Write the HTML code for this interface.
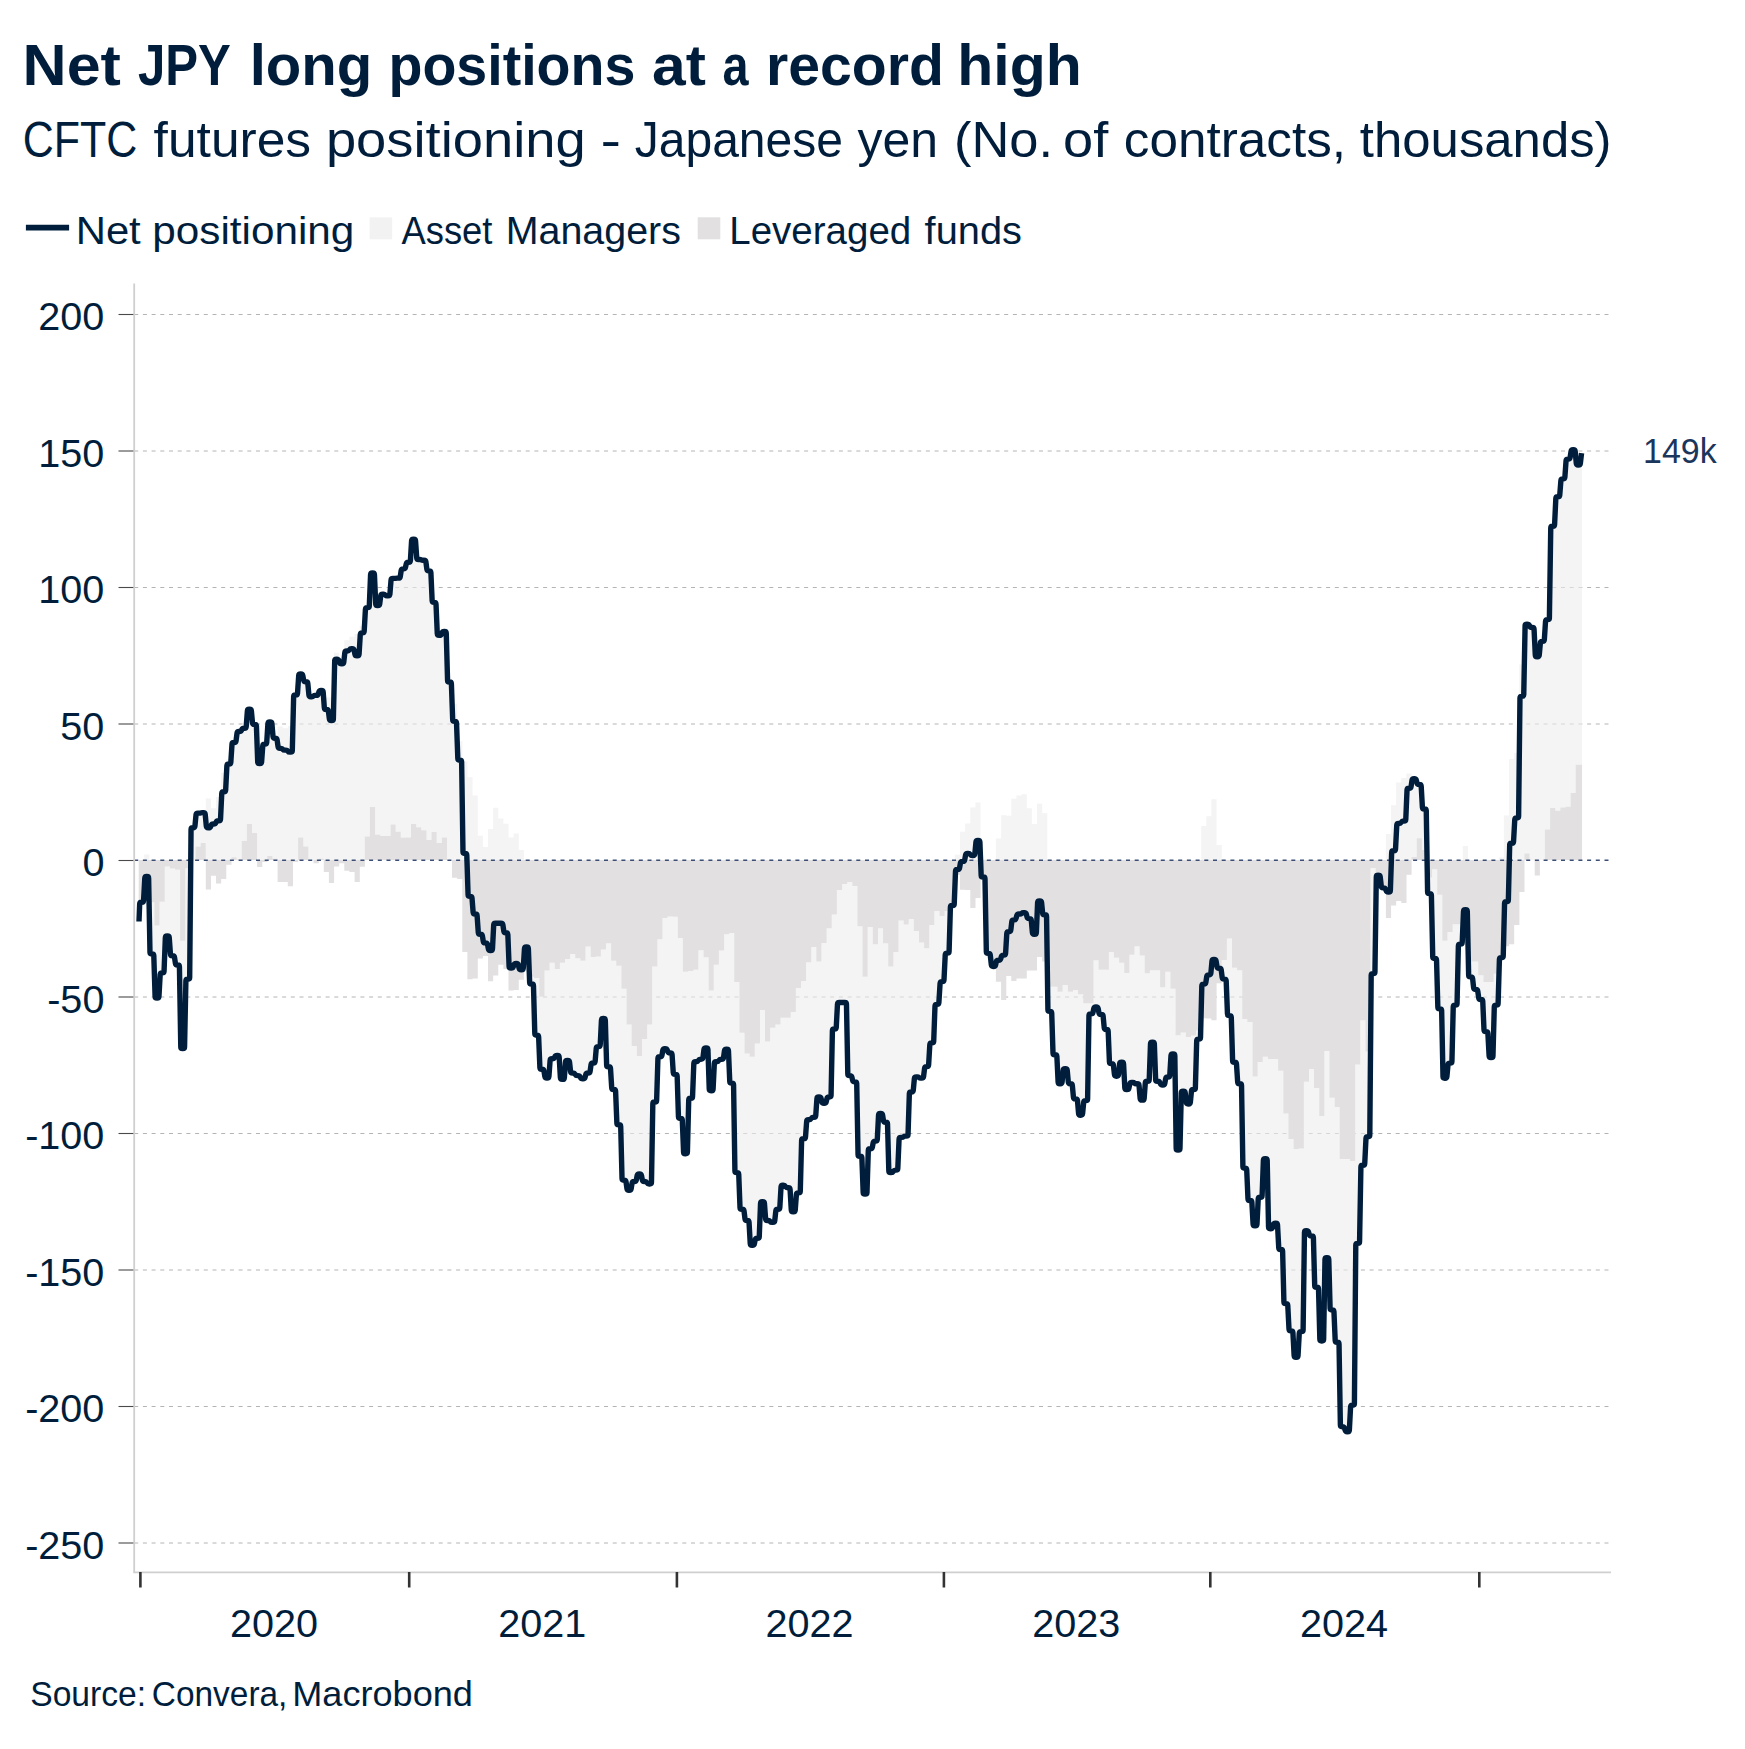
<!DOCTYPE html>
<html><head><meta charset="utf-8"><title>Net JPY long positions at a record high</title>
<style>
html,body{margin:0;padding:0;background:#fff;}
body{width:1745px;height:1749px;overflow:hidden;font-family:"Liberation Sans",sans-serif;}
svg{display:block}
text{font-family:"Liberation Sans",sans-serif;fill:#001e3c;}
.ax{font-size:39.6px;}
</style></head><body>
<svg width="1745" height="1749" viewBox="0 0 1745 1749">
<rect width="1745" height="1749" fill="#fff"/>
<text y="84.8" font-size="57" font-weight="700" xml:space="preserve"><tspan x="22.61" textLength="98.32" lengthAdjust="spacingAndGlyphs">Net</tspan> <tspan x="137.99" textLength="92.03" lengthAdjust="spacingAndGlyphs">JPY</tspan> <tspan x="249.65" textLength="122.62" lengthAdjust="spacingAndGlyphs">long</tspan> <tspan x="388.50" textLength="246.85" lengthAdjust="spacingAndGlyphs">positions</tspan> <tspan x="651.99" textLength="53.86" lengthAdjust="spacingAndGlyphs">at</tspan> <tspan x="722.39" textLength="26.04" lengthAdjust="spacingAndGlyphs">a</tspan> <tspan x="766.04" textLength="177.91" lengthAdjust="spacingAndGlyphs">record</tspan> <tspan x="957.28" textLength="124.45" lengthAdjust="spacingAndGlyphs">high</tspan></text>
<text y="157.3" font-size="50" font-weight="400" xml:space="preserve"><tspan x="22.84" textLength="114.54" lengthAdjust="spacingAndGlyphs">CFTC</tspan> <tspan x="153.58" textLength="157.56" lengthAdjust="spacingAndGlyphs">futures</tspan> <tspan x="325.92" textLength="259.77" lengthAdjust="spacingAndGlyphs">positioning</tspan> <tspan x="600.49" textLength="20.55" lengthAdjust="spacingAndGlyphs">-</tspan> <tspan x="634.78" textLength="208.15" lengthAdjust="spacingAndGlyphs">Japanese</tspan> <tspan x="857.47" textLength="80.55" lengthAdjust="spacingAndGlyphs">yen</tspan> <tspan x="953.94" textLength="99.07" lengthAdjust="spacingAndGlyphs">(No.</tspan> <tspan x="1063.11" textLength="45.21" lengthAdjust="spacingAndGlyphs">of</tspan> <tspan x="1123.84" textLength="222.28" lengthAdjust="spacingAndGlyphs">contracts,</tspan> <tspan x="1359.88" textLength="251.68" lengthAdjust="spacingAndGlyphs">thousands)</tspan></text>
<line x1="25.9" x2="69.1" y1="227.6" y2="227.6" stroke="#001e3c" stroke-width="5.6"/>
<rect x="369.6" y="217.3" width="22.6" height="22" fill="#f2f2f2"/>
<rect x="697.7" y="217.3" width="22.6" height="22" fill="#e2e0e1"/>
<text y="244.2" font-size="38" font-weight="400" xml:space="preserve"><tspan x="75.72" textLength="65.01" lengthAdjust="spacingAndGlyphs">Net</tspan> <tspan x="152.34" textLength="202.04" lengthAdjust="spacingAndGlyphs">positioning</tspan> <tspan x="401.49" textLength="90.92" lengthAdjust="spacingAndGlyphs">Asset</tspan> <tspan x="505.73" textLength="175.21" lengthAdjust="spacingAndGlyphs">Managers</tspan> <tspan x="729.31" textLength="181.96" lengthAdjust="spacingAndGlyphs">Leveraged</tspan> <tspan x="924.58" textLength="97.35" lengthAdjust="spacingAndGlyphs">funds</tspan></text>
<defs><clipPath id="lc"><path d="M138.7,901.0h5.53v1.2h-5.53zM144.2,854.4h5.18v5.6h-5.18zM149.3,902.3h5.18v51.7h-5.18zM154.4,925.6h5.18v72.5h-5.18zM159.6,901.7h5.18v71.2h-5.18zM164.7,866.4h5.18v69.7h-5.18zM169.8,868.6h5.18v87.1h-5.18zM175.0,869.8h5.18v95.3h-5.18zM180.1,940.7h5.18v107.8h-5.18zM185.2,868.3h5.18v110.9h-5.18zM190.4,827.8h5.18v32.2h-5.18zM195.5,813.2h5.18v33.7h-5.18zM200.6,812.7h5.18v30.4h-5.18zM205.8,798.4h5.18v61.6h-5.18zM210.9,808.2h5.18v51.8h-5.18zM216.0,797.1h5.18v62.9h-5.18zM221.1,772.8h5.18v87.2h-5.18zM226.3,759.3h5.18v100.7h-5.18zM231.4,742.6h5.18v114.6h-5.18zM236.5,731.5h5.18v128.0h-5.18zM241.7,728.2h5.18v113.0h-5.18zM246.8,709.3h5.18v114.8h-5.18zM251.9,724.4h5.18v108.5h-5.18zM257.1,756.5h5.18v103.5h-5.18zM262.2,742.1h5.18v117.9h-5.18zM267.3,721.9h5.18v134.1h-5.18zM272.5,738.3h5.18v120.5h-5.18zM277.6,726.5h5.18v133.5h-5.18zM282.7,728.3h5.18v131.7h-5.18zM287.8,726.0h5.18v134.0h-5.18zM293.0,693.0h5.18v167.0h-5.18zM298.1,674.0h5.18v163.4h-5.18zM303.2,681.8h5.18v164.6h-5.18zM308.4,696.7h5.18v163.3h-5.18zM313.5,692.2h5.18v167.8h-5.18zM318.6,690.4h5.18v168.4h-5.18zM323.8,697.5h5.18v162.5h-5.18zM328.9,697.5h5.18v162.5h-5.18zM334.0,652.7h5.18v207.3h-5.18zM339.2,660.7h5.18v199.3h-5.18zM344.3,640.3h5.18v219.7h-5.18zM349.4,636.7h5.18v223.3h-5.18zM354.6,634.0h5.18v226.0h-5.18zM359.7,626.1h5.18v233.9h-5.18zM364.8,607.7h5.18v228.7h-5.18zM369.9,572.9h5.18v234.2h-5.18zM375.1,605.7h5.18v229.2h-5.18zM380.2,594.3h5.18v241.8h-5.18zM385.3,595.8h5.18v240.3h-5.18zM390.5,578.4h5.18v246.0h-5.18zM395.6,578.2h5.18v253.5h-5.18zM400.7,568.8h5.18v268.5h-5.18zM405.9,562.3h5.18v275.1h-5.18zM411.0,539.1h5.18v285.0h-5.18zM416.1,559.5h5.18v267.8h-5.18zM421.3,560.3h5.18v269.9h-5.18zM426.4,570.9h5.18v269.0h-5.18zM431.5,602.4h5.18v229.7h-5.18zM436.6,635.4h5.18v207.6h-5.18zM441.8,631.4h5.18v206.0h-5.18zM446.9,682.1h5.18v177.9h-5.18zM452.0,703.7h5.18v156.3h-5.18zM457.2,741.2h5.18v118.8h-5.18zM462.3,761.4h5.18v98.6h-5.18zM467.4,777.2h5.18v82.8h-5.18zM472.6,795.5h5.18v64.5h-5.18zM477.7,835.8h5.18v24.2h-5.18zM482.8,847.0h5.18v13.0h-5.18zM488.0,829.1h5.18v30.9h-5.18zM493.1,807.8h5.18v52.2h-5.18zM498.2,818.5h5.18v41.5h-5.18zM503.4,823.7h5.18v36.3h-5.18zM508.5,837.5h5.18v22.5h-5.18zM513.6,833.6h5.18v26.4h-5.18zM518.7,850.0h5.18v10.0h-5.18zM523.9,946.4h5.18v0.6h-5.18zM529.0,976.7h5.18v7.4h-5.18zM534.1,977.9h5.18v57.3h-5.18zM539.3,996.8h5.18v72.4h-5.18zM544.4,970.4h5.18v107.7h-5.18zM549.5,962.8h5.18v95.9h-5.18zM554.7,969.1h5.18v86.3h-5.18zM559.8,962.8h5.18v116.5h-5.18zM564.9,959.1h5.18v101.4h-5.18zM570.1,954.0h5.18v119.1h-5.18zM575.2,958.2h5.18v117.4h-5.18zM580.3,960.7h5.18v118.2h-5.18zM585.4,946.4h5.18v126.6h-5.18zM590.6,956.9h5.18v106.1h-5.18zM595.7,956.5h5.18v90.1h-5.18zM600.8,949.6h5.18v68.8h-5.18zM606.0,943.3h5.18v123.5h-5.18zM611.1,960.7h5.18v128.8h-5.18zM616.2,965.7h5.18v159.0h-5.18zM621.4,988.7h5.18v191.5h-5.18zM626.5,1024.6h5.18v165.7h-5.18zM631.6,1046.0h5.18v135.4h-5.18zM636.8,1056.1h5.18v117.8h-5.18zM641.9,1039.1h5.18v142.4h-5.18zM647.0,1024.6h5.18v159.4h-5.18zM652.2,966.6h5.18v135.4h-5.18zM657.3,939.3h5.18v117.4h-5.18zM662.4,918.1h5.18v130.5h-5.18zM667.5,916.6h5.18v136.3h-5.18zM672.7,916.8h5.18v157.5h-5.18zM677.8,938.0h5.18v180.5h-5.18zM682.9,971.7h5.18v182.1h-5.18zM688.1,971.0h5.18v127.2h-5.18zM693.2,969.8h5.18v91.9h-5.18zM698.3,950.2h5.18v109.0h-5.18zM703.5,957.2h5.18v90.7h-5.18zM708.6,990.6h5.18v100.1h-5.18zM713.7,964.7h5.18v97.0h-5.18zM718.9,950.6h5.18v108.6h-5.18zM724.0,934.2h5.18v114.9h-5.18zM729.1,933.0h5.18v150.2h-5.18zM734.2,982.1h5.18v190.5h-5.18zM739.4,1032.8h5.18v176.4h-5.18zM744.5,1053.6h5.18v167.0h-5.18zM749.6,1056.8h5.18v188.5h-5.18zM754.8,1043.5h5.18v194.7h-5.18zM759.9,1010.1h5.18v191.5h-5.18zM765.0,1041.6h5.18v178.9h-5.18zM770.2,1027.8h5.18v194.6h-5.18zM775.3,1024.6h5.18v184.6h-5.18zM780.4,1017.7h5.18v167.6h-5.18zM785.6,1017.7h5.18v170.1h-5.18zM790.7,1012.0h5.18v199.7h-5.18zM795.8,988.1h5.18v204.8h-5.18zM800.9,981.1h5.18v157.5h-5.18zM806.1,962.2h5.18v157.5h-5.18zM811.2,947.1h5.18v170.1h-5.18zM816.3,961.6h5.18v135.4h-5.18zM821.5,943.0h5.18v160.3h-5.18zM826.6,928.2h5.18v168.9h-5.18zM831.7,914.6h5.18v114.4h-5.18zM836.9,890.1h5.18v112.4h-5.18zM842.0,884.0h5.18v118.4h-5.18zM847.1,882.1h5.18v193.4h-5.18zM852.3,885.9h5.18v196.0h-5.18zM857.4,926.3h5.18v230.0h-5.18zM862.5,976.7h5.18v217.4h-5.18zM867.7,926.9h5.18v221.8h-5.18zM872.8,944.3h5.18v196.8h-5.18zM877.9,928.2h5.18v185.2h-5.18zM883.0,943.3h5.18v178.9h-5.18zM888.2,966.6h5.18v206.0h-5.18zM893.3,952.1h5.18v218.0h-5.18zM898.4,920.6h5.18v216.8h-5.18zM903.6,924.6h5.18v211.5h-5.18zM908.7,919.1h5.18v172.9h-5.18zM913.8,930.9h5.18v145.9h-5.18zM919.0,942.6h5.18v135.5h-5.18zM924.1,948.3h5.18v118.3h-5.18zM929.2,925.0h5.18v117.9h-5.18zM934.4,911.1h5.18v93.2h-5.18zM939.5,915.9h5.18v65.7h-5.18zM944.6,911.1h5.18v42.0h-5.18zM949.7,905.4h5.18v0.0h-5.18zM954.9,854.7h5.18v5.3h-5.18zM960.0,831.7h5.18v28.3h-5.18zM965.1,823.6h5.18v36.4h-5.18zM970.3,807.6h5.18v52.4h-5.18zM975.4,802.6h5.18v57.4h-5.18zM980.5,859.3h5.18v0.7h-5.18zM985.7,953.4h5.18v0.0h-5.18zM990.8,966.5h5.18v0.0h-5.18zM995.9,838.5h5.18v21.5h-5.18zM1001.1,815.2h5.18v44.8h-5.18zM1006.2,815.7h5.18v44.3h-5.18zM1011.3,798.8h5.18v61.2h-5.18zM1016.5,795.5h5.18v64.5h-5.18zM1021.6,794.2h5.18v65.8h-5.18zM1026.7,808.2h5.18v51.8h-5.18zM1031.8,823.9h5.18v36.1h-5.18zM1037.0,803.8h5.18v56.2h-5.18zM1042.1,813.3h5.18v46.7h-5.18zM1047.2,986.8h5.18v24.6h-5.18zM1052.4,986.8h5.18v68.0h-5.18zM1057.5,991.8h5.18v91.9h-5.18zM1062.6,984.9h5.18v83.8h-5.18zM1067.8,991.8h5.18v91.9h-5.18zM1072.9,989.9h5.18v109.0h-5.18zM1078.0,994.3h5.18v120.9h-5.18zM1083.2,1003.2h5.18v97.5h-5.18zM1088.3,1003.2h5.18v10.8h-5.18zM1093.4,960.3h5.18v46.6h-5.18zM1098.5,969.7h5.18v44.7h-5.18zM1103.7,969.7h5.18v59.8h-5.18zM1108.8,952.1h5.18v111.5h-5.18zM1113.9,957.8h5.18v118.4h-5.18zM1119.1,962.8h5.18v99.5h-5.18zM1124.2,972.9h5.18v116.7h-5.18zM1129.3,954.7h5.18v127.8h-5.18zM1134.5,946.2h5.18v137.5h-5.18zM1139.6,955.5h5.18v144.6h-5.18zM1144.7,973.3h5.18v107.9h-5.18zM1149.9,970.2h5.18v71.9h-5.18zM1155.0,970.2h5.18v111.0h-5.18zM1160.1,987.2h5.18v97.8h-5.18zM1165.2,971.7h5.18v105.2h-5.18zM1170.4,988.8h5.18v65.2h-5.18zM1175.5,1035.2h5.18v114.9h-5.18zM1180.6,1032.5h5.18v58.8h-5.18zM1185.8,1036.9h5.18v67.0h-5.18zM1190.9,1035.6h5.18v53.9h-5.18zM1196.0,1030.6h5.18v8.5h-5.18zM1201.2,825.9h5.18v34.1h-5.18zM1206.3,816.2h5.18v43.8h-5.18zM1211.4,799.2h5.18v60.8h-5.18zM1216.6,844.9h5.18v15.1h-5.18zM1221.7,960.0h5.18v19.1h-5.18zM1226.8,938.5h5.18v77.2h-5.18zM1232.0,967.8h5.18v94.5h-5.18zM1237.1,970.3h5.18v113.4h-5.18zM1242.2,1019.0h5.18v149.2h-5.18zM1247.3,1022.0h5.18v178.5h-5.18zM1252.5,1076.6h5.18v149.1h-5.18zM1257.6,1061.9h5.18v135.4h-5.18zM1262.7,1056.8h5.18v101.8h-5.18zM1267.9,1059.0h5.18v169.8h-5.18zM1273.0,1059.0h5.18v164.3h-5.18zM1278.1,1070.7h5.18v178.8h-5.18zM1283.3,1113.6h5.18v190.1h-5.18zM1288.4,1139.0h5.18v191.9h-5.18zM1293.5,1149.1h5.18v208.3h-5.18zM1298.7,1148.5h5.18v183.2h-5.18zM1303.8,1081.7h5.18v149.1h-5.18zM1308.9,1069.1h5.18v166.8h-5.18zM1314.0,1088.0h5.18v199.3h-5.18zM1319.2,1116.1h5.18v224.9h-5.18zM1324.3,1051.0h5.18v206.7h-5.18zM1329.4,1097.7h5.18v212.3h-5.18zM1334.6,1106.9h5.18v235.4h-5.18zM1339.7,1158.9h5.18v267.8h-5.18zM1344.8,1158.9h5.18v272.8h-5.18zM1350.0,1161.1h5.18v244.2h-5.18zM1355.1,1064.6h5.18v178.8h-5.18zM1360.2,1020.3h5.18v145.0h-5.18zM1365.4,1051.4h5.18v85.3h-5.18zM1370.5,867.9h5.18v105.7h-5.18zM1375.6,872.0h5.18v3.2h-5.18zM1380.8,887.9h5.18v0.0h-5.18zM1385.9,834.0h5.18v26.0h-5.18zM1391.0,805.3h5.18v54.7h-5.18zM1396.1,782.6h5.18v77.4h-5.18zM1401.3,778.1h5.18v81.9h-5.18zM1406.4,773.5h5.18v86.5h-5.18zM1411.5,778.7h5.18v78.2h-5.18zM1416.7,784.5h5.18v53.9h-5.18zM1421.8,808.9h5.18v41.1h-5.18zM1426.9,877.5h5.18v16.1h-5.18zM1432.1,869.3h5.18v89.2h-5.18zM1437.2,894.7h5.18v114.2h-5.18zM1442.3,940.8h5.18v137.4h-5.18zM1447.5,931.9h5.18v131.2h-5.18zM1452.6,924.3h5.18v80.8h-5.18zM1457.7,924.3h5.18v19.8h-5.18zM1462.8,846.0h5.18v14.0h-5.18zM1468.0,961.4h5.18v15.4h-5.18zM1473.1,961.4h5.18v28.0h-5.18zM1478.2,975.2h5.18v24.4h-5.18zM1483.4,982.1h5.18v49.5h-5.18zM1488.5,982.1h5.18v75.5h-5.18zM1493.6,973.8h5.18v31.3h-5.18zM1498.8,857.6h5.18v2.4h-5.18zM1503.9,815.4h5.18v44.6h-5.18zM1509.0,759.0h5.18v101.0h-5.18zM1514.2,753.0h5.18v107.0h-5.18zM1519.3,664.4h5.18v195.6h-5.18zM1524.4,624.2h5.18v229.3h-5.18zM1529.6,627.5h5.18v232.5h-5.18zM1534.7,641.3h5.18v218.7h-5.18zM1539.8,641.4h5.18v218.6h-5.18zM1544.9,619.6h5.18v209.8h-5.18zM1550.1,526.3h5.18v281.8h-5.18zM1555.2,496.6h5.18v314.2h-5.18zM1560.3,478.9h5.18v328.5h-5.18zM1565.5,459.1h5.18v347.6h-5.18zM1570.6,449.6h5.18v343.4h-5.18zM1575.7,465.0h5.18v299.7h-5.18zM1580.9,453.2h1.14v311.6h-1.14z"/></clipPath></defs>
<g><line x1="134.2" x2="1609" y1="1543.0" y2="1543.0" stroke="#b4b4b4" stroke-width="1" stroke-dasharray="4 4.7"/><line x1="134.2" x2="1609" y1="1406.5" y2="1406.5" stroke="#b4b4b4" stroke-width="1" stroke-dasharray="4 4.7"/><line x1="134.2" x2="1609" y1="1270.0" y2="1270.0" stroke="#b4b4b4" stroke-width="1" stroke-dasharray="4 4.7"/><line x1="134.2" x2="1609" y1="1133.5" y2="1133.5" stroke="#b4b4b4" stroke-width="1" stroke-dasharray="4 4.7"/><line x1="134.2" x2="1609" y1="997.0" y2="997.0" stroke="#b4b4b4" stroke-width="1" stroke-dasharray="4 4.7"/><line x1="134.2" x2="1609" y1="724.0" y2="724.0" stroke="#b4b4b4" stroke-width="1" stroke-dasharray="4 4.7"/><line x1="134.2" x2="1609" y1="587.5" y2="587.5" stroke="#b4b4b4" stroke-width="1" stroke-dasharray="4 4.7"/><line x1="134.2" x2="1609" y1="451.0" y2="451.0" stroke="#b4b4b4" stroke-width="1" stroke-dasharray="4 4.7"/><line x1="134.2" x2="1609" y1="314.5" y2="314.5" stroke="#b4b4b4" stroke-width="1" stroke-dasharray="4 4.7"/></g>
<g><path fill="#f4f4f4" d="M138.7,901.0h5.53v1.2h-5.53zM144.2,854.4h5.18v5.6h-5.18zM149.3,902.3h5.18v51.7h-5.18zM154.4,925.6h5.18v72.5h-5.18zM159.6,901.7h5.18v71.2h-5.18zM164.7,866.4h5.18v69.7h-5.18zM169.8,868.6h5.18v87.1h-5.18zM175.0,869.8h5.18v95.3h-5.18zM180.1,940.7h5.18v107.8h-5.18zM185.2,868.3h5.18v110.9h-5.18zM190.4,827.8h5.18v32.2h-5.18zM195.5,813.2h5.18v33.7h-5.18zM200.6,812.7h5.18v30.4h-5.18zM205.8,798.4h5.18v61.6h-5.18zM210.9,808.2h5.18v51.8h-5.18zM216.0,797.1h5.18v62.9h-5.18zM221.1,772.8h5.18v87.2h-5.18zM226.3,759.3h5.18v100.7h-5.18zM231.4,742.6h5.18v114.6h-5.18zM236.5,731.5h5.18v128.0h-5.18zM241.7,728.2h5.18v113.0h-5.18zM246.8,709.3h5.18v114.8h-5.18zM251.9,724.4h5.18v108.5h-5.18zM257.1,756.5h5.18v103.5h-5.18zM262.2,742.1h5.18v117.9h-5.18zM267.3,721.9h5.18v134.1h-5.18zM272.5,738.3h5.18v120.5h-5.18zM277.6,726.5h5.18v133.5h-5.18zM282.7,728.3h5.18v131.7h-5.18zM287.8,726.0h5.18v134.0h-5.18zM293.0,693.0h5.18v167.0h-5.18zM298.1,674.0h5.18v163.4h-5.18zM303.2,681.8h5.18v164.6h-5.18zM308.4,696.7h5.18v163.3h-5.18zM313.5,692.2h5.18v167.8h-5.18zM318.6,690.4h5.18v168.4h-5.18zM323.8,697.5h5.18v162.5h-5.18zM328.9,697.5h5.18v162.5h-5.18zM334.0,652.7h5.18v207.3h-5.18zM339.2,660.7h5.18v199.3h-5.18zM344.3,640.3h5.18v219.7h-5.18zM349.4,636.7h5.18v223.3h-5.18zM354.6,634.0h5.18v226.0h-5.18zM359.7,626.1h5.18v233.9h-5.18zM364.8,607.7h5.18v228.7h-5.18zM369.9,572.9h5.18v234.2h-5.18zM375.1,605.7h5.18v229.2h-5.18zM380.2,594.3h5.18v241.8h-5.18zM385.3,595.8h5.18v240.3h-5.18zM390.5,578.4h5.18v246.0h-5.18zM395.6,578.2h5.18v253.5h-5.18zM400.7,568.8h5.18v268.5h-5.18zM405.9,562.3h5.18v275.1h-5.18zM411.0,539.1h5.18v285.0h-5.18zM416.1,559.5h5.18v267.8h-5.18zM421.3,560.3h5.18v269.9h-5.18zM426.4,570.9h5.18v269.0h-5.18zM431.5,602.4h5.18v229.7h-5.18zM436.6,635.4h5.18v207.6h-5.18zM441.8,631.4h5.18v206.0h-5.18zM446.9,682.1h5.18v177.9h-5.18zM452.0,703.7h5.18v156.3h-5.18zM457.2,741.2h5.18v118.8h-5.18zM462.3,761.4h5.18v98.6h-5.18zM467.4,777.2h5.18v82.8h-5.18zM472.6,795.5h5.18v64.5h-5.18zM477.7,835.8h5.18v24.2h-5.18zM482.8,847.0h5.18v13.0h-5.18zM488.0,829.1h5.18v30.9h-5.18zM493.1,807.8h5.18v52.2h-5.18zM498.2,818.5h5.18v41.5h-5.18zM503.4,823.7h5.18v36.3h-5.18zM508.5,837.5h5.18v22.5h-5.18zM513.6,833.6h5.18v26.4h-5.18zM518.7,850.0h5.18v10.0h-5.18zM523.9,946.4h5.18v0.6h-5.18zM529.0,976.7h5.18v7.4h-5.18zM534.1,977.9h5.18v57.3h-5.18zM539.3,996.8h5.18v72.4h-5.18zM544.4,970.4h5.18v107.7h-5.18zM549.5,962.8h5.18v95.9h-5.18zM554.7,969.1h5.18v86.3h-5.18zM559.8,962.8h5.18v116.5h-5.18zM564.9,959.1h5.18v101.4h-5.18zM570.1,954.0h5.18v119.1h-5.18zM575.2,958.2h5.18v117.4h-5.18zM580.3,960.7h5.18v118.2h-5.18zM585.4,946.4h5.18v126.6h-5.18zM590.6,956.9h5.18v106.1h-5.18zM595.7,956.5h5.18v90.1h-5.18zM600.8,949.6h5.18v68.8h-5.18zM606.0,943.3h5.18v123.5h-5.18zM611.1,960.7h5.18v128.8h-5.18zM616.2,965.7h5.18v159.0h-5.18zM621.4,988.7h5.18v191.5h-5.18zM626.5,1024.6h5.18v165.7h-5.18zM631.6,1046.0h5.18v135.4h-5.18zM636.8,1056.1h5.18v117.8h-5.18zM641.9,1039.1h5.18v142.4h-5.18zM647.0,1024.6h5.18v159.4h-5.18zM652.2,966.6h5.18v135.4h-5.18zM657.3,939.3h5.18v117.4h-5.18zM662.4,918.1h5.18v130.5h-5.18zM667.5,916.6h5.18v136.3h-5.18zM672.7,916.8h5.18v157.5h-5.18zM677.8,938.0h5.18v180.5h-5.18zM682.9,971.7h5.18v182.1h-5.18zM688.1,971.0h5.18v127.2h-5.18zM693.2,969.8h5.18v91.9h-5.18zM698.3,950.2h5.18v109.0h-5.18zM703.5,957.2h5.18v90.7h-5.18zM708.6,990.6h5.18v100.1h-5.18zM713.7,964.7h5.18v97.0h-5.18zM718.9,950.6h5.18v108.6h-5.18zM724.0,934.2h5.18v114.9h-5.18zM729.1,933.0h5.18v150.2h-5.18zM734.2,982.1h5.18v190.5h-5.18zM739.4,1032.8h5.18v176.4h-5.18zM744.5,1053.6h5.18v167.0h-5.18zM749.6,1056.8h5.18v188.5h-5.18zM754.8,1043.5h5.18v194.7h-5.18zM759.9,1010.1h5.18v191.5h-5.18zM765.0,1041.6h5.18v178.9h-5.18zM770.2,1027.8h5.18v194.6h-5.18zM775.3,1024.6h5.18v184.6h-5.18zM780.4,1017.7h5.18v167.6h-5.18zM785.6,1017.7h5.18v170.1h-5.18zM790.7,1012.0h5.18v199.7h-5.18zM795.8,988.1h5.18v204.8h-5.18zM800.9,981.1h5.18v157.5h-5.18zM806.1,962.2h5.18v157.5h-5.18zM811.2,947.1h5.18v170.1h-5.18zM816.3,961.6h5.18v135.4h-5.18zM821.5,943.0h5.18v160.3h-5.18zM826.6,928.2h5.18v168.9h-5.18zM831.7,914.6h5.18v114.4h-5.18zM836.9,890.1h5.18v112.4h-5.18zM842.0,884.0h5.18v118.4h-5.18zM847.1,882.1h5.18v193.4h-5.18zM852.3,885.9h5.18v196.0h-5.18zM857.4,926.3h5.18v230.0h-5.18zM862.5,976.7h5.18v217.4h-5.18zM867.7,926.9h5.18v221.8h-5.18zM872.8,944.3h5.18v196.8h-5.18zM877.9,928.2h5.18v185.2h-5.18zM883.0,943.3h5.18v178.9h-5.18zM888.2,966.6h5.18v206.0h-5.18zM893.3,952.1h5.18v218.0h-5.18zM898.4,920.6h5.18v216.8h-5.18zM903.6,924.6h5.18v211.5h-5.18zM908.7,919.1h5.18v172.9h-5.18zM913.8,930.9h5.18v145.9h-5.18zM919.0,942.6h5.18v135.5h-5.18zM924.1,948.3h5.18v118.3h-5.18zM929.2,925.0h5.18v117.9h-5.18zM934.4,911.1h5.18v93.2h-5.18zM939.5,915.9h5.18v65.7h-5.18zM944.6,911.1h5.18v42.0h-5.18zM949.7,905.4h5.18v0.0h-5.18zM954.9,854.7h5.18v5.3h-5.18zM960.0,831.7h5.18v28.3h-5.18zM965.1,823.6h5.18v36.4h-5.18zM970.3,807.6h5.18v52.4h-5.18zM975.4,802.6h5.18v57.4h-5.18zM980.5,859.3h5.18v0.7h-5.18zM985.7,953.4h5.18v0.0h-5.18zM990.8,966.5h5.18v0.0h-5.18zM995.9,838.5h5.18v21.5h-5.18zM1001.1,815.2h5.18v44.8h-5.18zM1006.2,815.7h5.18v44.3h-5.18zM1011.3,798.8h5.18v61.2h-5.18zM1016.5,795.5h5.18v64.5h-5.18zM1021.6,794.2h5.18v65.8h-5.18zM1026.7,808.2h5.18v51.8h-5.18zM1031.8,823.9h5.18v36.1h-5.18zM1037.0,803.8h5.18v56.2h-5.18zM1042.1,813.3h5.18v46.7h-5.18zM1047.2,986.8h5.18v24.6h-5.18zM1052.4,986.8h5.18v68.0h-5.18zM1057.5,991.8h5.18v91.9h-5.18zM1062.6,984.9h5.18v83.8h-5.18zM1067.8,991.8h5.18v91.9h-5.18zM1072.9,989.9h5.18v109.0h-5.18zM1078.0,994.3h5.18v120.9h-5.18zM1083.2,1003.2h5.18v97.5h-5.18zM1088.3,1003.2h5.18v10.8h-5.18zM1093.4,960.3h5.18v46.6h-5.18zM1098.5,969.7h5.18v44.7h-5.18zM1103.7,969.7h5.18v59.8h-5.18zM1108.8,952.1h5.18v111.5h-5.18zM1113.9,957.8h5.18v118.4h-5.18zM1119.1,962.8h5.18v99.5h-5.18zM1124.2,972.9h5.18v116.7h-5.18zM1129.3,954.7h5.18v127.8h-5.18zM1134.5,946.2h5.18v137.5h-5.18zM1139.6,955.5h5.18v144.6h-5.18zM1144.7,973.3h5.18v107.9h-5.18zM1149.9,970.2h5.18v71.9h-5.18zM1155.0,970.2h5.18v111.0h-5.18zM1160.1,987.2h5.18v97.8h-5.18zM1165.2,971.7h5.18v105.2h-5.18zM1170.4,988.8h5.18v65.2h-5.18zM1175.5,1035.2h5.18v114.9h-5.18zM1180.6,1032.5h5.18v58.8h-5.18zM1185.8,1036.9h5.18v67.0h-5.18zM1190.9,1035.6h5.18v53.9h-5.18zM1196.0,1030.6h5.18v8.5h-5.18zM1201.2,825.9h5.18v34.1h-5.18zM1206.3,816.2h5.18v43.8h-5.18zM1211.4,799.2h5.18v60.8h-5.18zM1216.6,844.9h5.18v15.1h-5.18zM1221.7,960.0h5.18v19.1h-5.18zM1226.8,938.5h5.18v77.2h-5.18zM1232.0,967.8h5.18v94.5h-5.18zM1237.1,970.3h5.18v113.4h-5.18zM1242.2,1019.0h5.18v149.2h-5.18zM1247.3,1022.0h5.18v178.5h-5.18zM1252.5,1076.6h5.18v149.1h-5.18zM1257.6,1061.9h5.18v135.4h-5.18zM1262.7,1056.8h5.18v101.8h-5.18zM1267.9,1059.0h5.18v169.8h-5.18zM1273.0,1059.0h5.18v164.3h-5.18zM1278.1,1070.7h5.18v178.8h-5.18zM1283.3,1113.6h5.18v190.1h-5.18zM1288.4,1139.0h5.18v191.9h-5.18zM1293.5,1149.1h5.18v208.3h-5.18zM1298.7,1148.5h5.18v183.2h-5.18zM1303.8,1081.7h5.18v149.1h-5.18zM1308.9,1069.1h5.18v166.8h-5.18zM1314.0,1088.0h5.18v199.3h-5.18zM1319.2,1116.1h5.18v224.9h-5.18zM1324.3,1051.0h5.18v206.7h-5.18zM1329.4,1097.7h5.18v212.3h-5.18zM1334.6,1106.9h5.18v235.4h-5.18zM1339.7,1158.9h5.18v267.8h-5.18zM1344.8,1158.9h5.18v272.8h-5.18zM1350.0,1161.1h5.18v244.2h-5.18zM1355.1,1064.6h5.18v178.8h-5.18zM1360.2,1020.3h5.18v145.0h-5.18zM1365.4,1051.4h5.18v85.3h-5.18zM1370.5,867.9h5.18v105.7h-5.18zM1375.6,872.0h5.18v3.2h-5.18zM1380.8,887.9h5.18v0.0h-5.18zM1385.9,834.0h5.18v26.0h-5.18zM1391.0,805.3h5.18v54.7h-5.18zM1396.1,782.6h5.18v77.4h-5.18zM1401.3,778.1h5.18v81.9h-5.18zM1406.4,773.5h5.18v86.5h-5.18zM1411.5,778.7h5.18v78.2h-5.18zM1416.7,784.5h5.18v53.9h-5.18zM1421.8,808.9h5.18v41.1h-5.18zM1426.9,877.5h5.18v16.1h-5.18zM1432.1,869.3h5.18v89.2h-5.18zM1437.2,894.7h5.18v114.2h-5.18zM1442.3,940.8h5.18v137.4h-5.18zM1447.5,931.9h5.18v131.2h-5.18zM1452.6,924.3h5.18v80.8h-5.18zM1457.7,924.3h5.18v19.8h-5.18zM1462.8,846.0h5.18v14.0h-5.18zM1468.0,961.4h5.18v15.4h-5.18zM1473.1,961.4h5.18v28.0h-5.18zM1478.2,975.2h5.18v24.4h-5.18zM1483.4,982.1h5.18v49.5h-5.18zM1488.5,982.1h5.18v75.5h-5.18zM1493.6,973.8h5.18v31.3h-5.18zM1498.8,857.6h5.18v2.4h-5.18zM1503.9,815.4h5.18v44.6h-5.18zM1509.0,759.0h5.18v101.0h-5.18zM1514.2,753.0h5.18v107.0h-5.18zM1519.3,664.4h5.18v195.6h-5.18zM1524.4,624.2h5.18v229.3h-5.18zM1529.6,627.5h5.18v232.5h-5.18zM1534.7,641.3h5.18v218.7h-5.18zM1539.8,641.4h5.18v218.6h-5.18zM1544.9,619.6h5.18v209.8h-5.18zM1550.1,526.3h5.18v281.8h-5.18zM1555.2,496.6h5.18v314.2h-5.18zM1560.3,478.9h5.18v328.5h-5.18zM1565.5,459.1h5.18v347.6h-5.18zM1570.6,449.6h5.18v343.4h-5.18zM1575.7,465.0h5.18v299.7h-5.18zM1580.9,453.2h1.14v311.6h-1.14z"/></g>
<g clip-path="url(#lc)"><line x1="134.2" x2="1609" y1="1543.0" y2="1543.0" stroke="#d6d6d6" stroke-width="1" stroke-dasharray="4 4.7"/><line x1="134.2" x2="1609" y1="1406.5" y2="1406.5" stroke="#d6d6d6" stroke-width="1" stroke-dasharray="4 4.7"/><line x1="134.2" x2="1609" y1="1270.0" y2="1270.0" stroke="#d6d6d6" stroke-width="1" stroke-dasharray="4 4.7"/><line x1="134.2" x2="1609" y1="1133.5" y2="1133.5" stroke="#d6d6d6" stroke-width="1" stroke-dasharray="4 4.7"/><line x1="134.2" x2="1609" y1="997.0" y2="997.0" stroke="#d6d6d6" stroke-width="1" stroke-dasharray="4 4.7"/><line x1="134.2" x2="1609" y1="724.0" y2="724.0" stroke="#d6d6d6" stroke-width="1" stroke-dasharray="4 4.7"/><line x1="134.2" x2="1609" y1="587.5" y2="587.5" stroke="#d6d6d6" stroke-width="1" stroke-dasharray="4 4.7"/><line x1="134.2" x2="1609" y1="451.0" y2="451.0" stroke="#d6d6d6" stroke-width="1" stroke-dasharray="4 4.7"/><line x1="134.2" x2="1609" y1="314.5" y2="314.5" stroke="#d6d6d6" stroke-width="1" stroke-dasharray="4 4.7"/></g>
<g><path fill="#e2e0e1" d="M138.7,860.0h5.53v41.0h-5.53zM144.2,860.0h5.18v22.1h-5.18zM149.3,860.0h5.18v42.3h-5.18zM154.4,860.0h5.18v65.6h-5.18zM159.6,860.0h5.18v41.7h-5.18zM164.7,860.0h5.18v6.4h-5.18zM169.8,860.0h5.18v8.6h-5.18zM175.0,860.0h5.18v9.8h-5.18zM180.1,860.0h5.18v80.7h-5.18zM185.2,860.0h5.18v8.3h-5.18zM195.5,846.8h5.18v13.2h-5.18zM200.6,843.0h5.18v17.0h-5.18zM205.8,860.0h5.18v29.4h-5.18zM210.9,860.0h5.18v15.8h-5.18zM216.0,860.0h5.18v23.6h-5.18zM221.1,860.0h5.18v19.0h-5.18zM226.3,860.0h5.18v4.7h-5.18zM231.4,857.2h5.18v2.8h-5.18zM236.5,859.4h5.18v0.6h-5.18zM241.7,841.1h5.18v18.9h-5.18zM246.8,824.1h5.18v35.9h-5.18zM251.9,833.0h5.18v27.0h-5.18zM257.1,860.0h5.18v7.0h-5.18zM262.2,860.0h5.18v1.9h-5.18zM267.3,856.0h5.18v4.0h-5.18zM272.5,858.8h5.18v1.2h-5.18zM277.6,860.0h5.18v21.9h-5.18zM282.7,860.0h5.18v21.9h-5.18zM287.8,860.0h5.18v26.2h-5.18zM293.0,860.0h5.18v1.9h-5.18zM298.1,837.4h5.18v22.6h-5.18zM303.2,846.4h5.18v13.6h-5.18zM313.5,860.0h5.18v3.2h-5.18zM318.6,858.8h5.18v1.2h-5.18zM323.8,860.0h5.18v12.0h-5.18zM328.9,860.0h5.18v23.1h-5.18zM334.0,860.0h5.18v6.4h-5.18zM339.2,860.0h5.18v3.2h-5.18zM344.3,860.0h5.18v10.8h-5.18zM349.4,860.0h5.18v12.0h-5.18zM354.6,860.0h5.18v21.9h-5.18zM359.7,860.0h5.18v6.7h-5.18zM364.8,836.4h5.18v23.6h-5.18zM369.9,807.1h5.18v52.9h-5.18zM375.1,834.8h5.18v25.2h-5.18zM380.2,836.1h5.18v23.9h-5.18zM385.3,836.1h5.18v23.9h-5.18zM390.5,824.4h5.18v35.6h-5.18zM395.6,831.7h5.18v28.3h-5.18zM400.7,837.4h5.18v22.6h-5.18zM405.9,837.4h5.18v22.6h-5.18zM411.0,824.1h5.18v35.9h-5.18zM416.1,827.3h5.18v32.7h-5.18zM421.3,830.2h5.18v29.8h-5.18zM426.4,839.9h5.18v20.1h-5.18zM431.5,832.1h5.18v27.9h-5.18zM436.6,843.0h5.18v17.0h-5.18zM441.8,837.4h5.18v22.6h-5.18zM452.0,860.0h5.18v17.7h-5.18zM457.2,860.0h5.18v19.0h-5.18zM462.3,860.0h5.18v92.1h-5.18zM467.4,860.0h5.18v119.2h-5.18zM472.6,860.0h5.18v118.6h-5.18zM477.7,860.0h5.18v98.4h-5.18zM482.8,860.0h5.18v95.9h-5.18zM488.0,860.0h5.18v121.3h-5.18zM493.1,860.0h5.18v115.4h-5.18zM498.2,860.0h5.18v104.7h-5.18zM503.4,860.0h5.18v109.1h-5.18zM508.5,860.0h5.18v130.5h-5.18zM513.6,860.0h5.18v129.9h-5.18zM518.7,860.0h5.18v119.8h-5.18zM523.9,860.0h5.18v86.4h-5.18zM529.0,860.0h5.18v116.7h-5.18zM534.1,860.0h5.18v117.9h-5.18zM539.3,860.0h5.18v136.8h-5.18zM544.4,860.0h5.18v110.4h-5.18zM549.5,860.0h5.18v102.8h-5.18zM554.7,860.0h5.18v109.1h-5.18zM559.8,860.0h5.18v102.8h-5.18zM564.9,860.0h5.18v99.1h-5.18zM570.1,860.0h5.18v94.0h-5.18zM575.2,860.0h5.18v98.2h-5.18zM580.3,860.0h5.18v100.7h-5.18zM585.4,860.0h5.18v86.4h-5.18zM590.6,860.0h5.18v96.9h-5.18zM595.7,860.0h5.18v96.5h-5.18zM600.8,860.0h5.18v89.6h-5.18zM606.0,860.0h5.18v83.3h-5.18zM611.1,860.0h5.18v100.7h-5.18zM616.2,860.0h5.18v105.7h-5.18zM621.4,860.0h5.18v128.7h-5.18zM626.5,860.0h5.18v164.6h-5.18zM631.6,860.0h5.18v186.0h-5.18zM636.8,860.0h5.18v196.1h-5.18zM641.9,860.0h5.18v179.1h-5.18zM647.0,860.0h5.18v164.6h-5.18zM652.2,860.0h5.18v106.6h-5.18zM657.3,860.0h5.18v79.3h-5.18zM662.4,860.0h5.18v58.1h-5.18zM667.5,860.0h5.18v56.6h-5.18zM672.7,860.0h5.18v56.8h-5.18zM677.8,860.0h5.18v78.0h-5.18zM682.9,860.0h5.18v111.7h-5.18zM688.1,860.0h5.18v111.0h-5.18zM693.2,860.0h5.18v109.8h-5.18zM698.3,860.0h5.18v90.2h-5.18zM703.5,860.0h5.18v97.2h-5.18zM708.6,860.0h5.18v130.6h-5.18zM713.7,860.0h5.18v104.7h-5.18zM718.9,860.0h5.18v90.6h-5.18zM724.0,860.0h5.18v74.2h-5.18zM729.1,860.0h5.18v73.0h-5.18zM734.2,860.0h5.18v122.1h-5.18zM739.4,860.0h5.18v172.8h-5.18zM744.5,860.0h5.18v193.6h-5.18zM749.6,860.0h5.18v196.8h-5.18zM754.8,860.0h5.18v183.5h-5.18zM759.9,860.0h5.18v150.1h-5.18zM765.0,860.0h5.18v181.6h-5.18zM770.2,860.0h5.18v167.8h-5.18zM775.3,860.0h5.18v164.6h-5.18zM780.4,860.0h5.18v157.7h-5.18zM785.6,860.0h5.18v157.7h-5.18zM790.7,860.0h5.18v152.0h-5.18zM795.8,860.0h5.18v128.1h-5.18zM800.9,860.0h5.18v121.1h-5.18zM806.1,860.0h5.18v102.2h-5.18zM811.2,860.0h5.18v87.1h-5.18zM816.3,860.0h5.18v101.6h-5.18zM821.5,860.0h5.18v83.0h-5.18zM826.6,860.0h5.18v68.2h-5.18zM831.7,860.0h5.18v54.6h-5.18zM836.9,860.0h5.18v30.1h-5.18zM842.0,860.0h5.18v24.0h-5.18zM847.1,860.0h5.18v22.1h-5.18zM852.3,860.0h5.18v25.9h-5.18zM857.4,860.0h5.18v66.3h-5.18zM862.5,860.0h5.18v116.7h-5.18zM867.7,860.0h5.18v66.9h-5.18zM872.8,860.0h5.18v84.3h-5.18zM877.9,860.0h5.18v68.2h-5.18zM883.0,860.0h5.18v83.3h-5.18zM888.2,860.0h5.18v106.6h-5.18zM893.3,860.0h5.18v92.1h-5.18zM898.4,860.0h5.18v60.6h-5.18zM903.6,860.0h5.18v64.6h-5.18zM908.7,860.0h5.18v59.1h-5.18zM913.8,860.0h5.18v70.9h-5.18zM919.0,860.0h5.18v82.6h-5.18zM924.1,860.0h5.18v88.3h-5.18zM929.2,860.0h5.18v65.0h-5.18zM934.4,860.0h5.18v51.1h-5.18zM939.5,860.0h5.18v55.9h-5.18zM944.6,860.0h5.18v51.1h-5.18zM949.7,860.0h5.18v45.4h-5.18zM954.9,860.0h5.18v14.7h-5.18zM960.0,860.0h5.18v29.7h-5.18zM965.1,860.0h5.18v29.9h-5.18zM970.3,860.0h5.18v48.0h-5.18zM975.4,860.0h5.18v37.9h-5.18zM980.5,860.0h5.18v17.7h-5.18zM985.7,860.0h5.18v93.4h-5.18zM990.8,860.0h5.18v106.5h-5.18zM995.9,860.0h5.18v121.7h-5.18zM1001.1,860.0h5.18v140.0h-5.18zM1006.2,860.0h5.18v116.0h-5.18zM1011.3,860.0h5.18v121.1h-5.18zM1016.5,860.0h5.18v118.6h-5.18zM1021.6,860.0h5.18v118.6h-5.18zM1026.7,860.0h5.18v110.4h-5.18zM1031.8,860.0h5.18v110.4h-5.18zM1037.0,860.0h5.18v97.1h-5.18zM1042.1,860.0h5.18v101.5h-5.18zM1047.2,860.0h5.18v126.8h-5.18zM1052.4,860.0h5.18v126.8h-5.18zM1057.5,860.0h5.18v131.8h-5.18zM1062.6,860.0h5.18v124.9h-5.18zM1067.8,860.0h5.18v131.8h-5.18zM1072.9,860.0h5.18v129.9h-5.18zM1078.0,860.0h5.18v134.3h-5.18zM1083.2,860.0h5.18v143.2h-5.18zM1088.3,860.0h5.18v143.2h-5.18zM1093.4,860.0h5.18v100.3h-5.18zM1098.5,860.0h5.18v109.7h-5.18zM1103.7,860.0h5.18v109.7h-5.18zM1108.8,860.0h5.18v92.1h-5.18zM1113.9,860.0h5.18v97.8h-5.18zM1119.1,860.0h5.18v102.8h-5.18zM1124.2,860.0h5.18v112.9h-5.18zM1129.3,860.0h5.18v94.7h-5.18zM1134.5,860.0h5.18v86.2h-5.18zM1139.6,860.0h5.18v95.5h-5.18zM1144.7,860.0h5.18v113.3h-5.18zM1149.9,860.0h5.18v110.2h-5.18zM1155.0,860.0h5.18v110.2h-5.18zM1160.1,860.0h5.18v127.2h-5.18zM1165.2,860.0h5.18v111.7h-5.18zM1170.4,860.0h5.18v128.8h-5.18zM1175.5,860.0h5.18v175.2h-5.18zM1180.6,860.0h5.18v172.5h-5.18zM1185.8,860.0h5.18v176.9h-5.18zM1190.9,860.0h5.18v175.6h-5.18zM1196.0,860.0h5.18v170.6h-5.18zM1201.2,860.0h5.18v158.2h-5.18zM1206.3,860.0h5.18v158.6h-5.18zM1211.4,860.0h5.18v160.3h-5.18zM1216.6,860.0h5.18v123.3h-5.18zM1221.7,860.0h5.18v100.0h-5.18zM1226.8,860.0h5.18v78.5h-5.18zM1232.0,860.0h5.18v107.8h-5.18zM1237.1,860.0h5.18v110.3h-5.18zM1242.2,860.0h5.18v159.0h-5.18zM1247.3,860.0h5.18v162.0h-5.18zM1252.5,860.0h5.18v216.6h-5.18zM1257.6,860.0h5.18v201.9h-5.18zM1262.7,860.0h5.18v196.8h-5.18zM1267.9,860.0h5.18v199.0h-5.18zM1273.0,860.0h5.18v199.0h-5.18zM1278.1,860.0h5.18v210.7h-5.18zM1283.3,860.0h5.18v253.6h-5.18zM1288.4,860.0h5.18v279.0h-5.18zM1293.5,860.0h5.18v289.1h-5.18zM1298.7,860.0h5.18v288.5h-5.18zM1303.8,860.0h5.18v221.7h-5.18zM1308.9,860.0h5.18v209.1h-5.18zM1314.0,860.0h5.18v228.0h-5.18zM1319.2,860.0h5.18v256.1h-5.18zM1324.3,860.0h5.18v191.0h-5.18zM1329.4,860.0h5.18v237.7h-5.18zM1334.6,860.0h5.18v246.9h-5.18zM1339.7,860.0h5.18v298.9h-5.18zM1344.8,860.0h5.18v298.9h-5.18zM1350.0,860.0h5.18v301.1h-5.18zM1355.1,860.0h5.18v204.6h-5.18zM1360.2,860.0h5.18v160.3h-5.18zM1365.4,860.0h5.18v191.4h-5.18zM1370.5,860.0h5.18v7.9h-5.18zM1375.6,860.0h5.18v12.0h-5.18zM1380.8,860.0h5.18v27.9h-5.18zM1385.9,860.0h5.18v58.1h-5.18zM1391.0,860.0h5.18v45.5h-5.18zM1396.1,860.0h5.18v40.9h-5.18zM1401.3,860.0h5.18v43.0h-5.18zM1406.4,860.0h5.18v14.8h-5.18zM1411.5,856.9h5.18v3.1h-5.18zM1416.7,838.3h5.18v21.7h-5.18zM1421.8,850.0h5.18v10.0h-5.18zM1426.9,860.0h5.18v17.5h-5.18zM1432.1,860.0h5.18v9.3h-5.18zM1437.2,860.0h5.18v34.7h-5.18zM1442.3,860.0h5.18v80.8h-5.18zM1447.5,860.0h5.18v71.9h-5.18zM1452.6,860.0h5.18v64.3h-5.18zM1457.7,860.0h5.18v64.3h-5.18zM1462.8,860.0h5.18v63.7h-5.18zM1468.0,860.0h5.18v101.4h-5.18zM1473.1,860.0h5.18v101.4h-5.18zM1478.2,860.0h5.18v115.2h-5.18zM1483.4,860.0h5.18v122.1h-5.18zM1488.5,860.0h5.18v122.1h-5.18zM1493.6,860.0h5.18v113.8h-5.18zM1498.8,860.0h5.18v100.1h-5.18zM1503.9,860.0h5.18v86.3h-5.18zM1509.0,860.0h5.18v84.2h-5.18zM1514.2,860.0h5.18v65.0h-5.18zM1519.3,860.0h5.18v32.0h-5.18zM1524.4,853.5h5.18v6.5h-5.18zM1534.7,860.0h5.18v15.5h-5.18zM1544.9,829.4h5.18v30.6h-5.18zM1550.1,808.1h5.18v51.9h-5.18zM1555.2,810.8h5.18v49.2h-5.18zM1560.3,807.4h5.18v52.6h-5.18zM1565.5,806.7h5.18v53.3h-5.18zM1570.6,793.0h5.18v67.0h-5.18zM1575.7,764.8h5.18v95.2h-5.18zM1580.9,764.8h1.14v95.2h-1.14z"/></g>
<g><line x1="134.2" x2="1609" y1="860.25" y2="860.25" stroke="#3b4e76" stroke-width="1.5" stroke-dasharray="4 4.7"/></g>
<g><line x1="118.5" x2="134" y1="1543.0" y2="1543.0" stroke="#4a4a4a" stroke-width="1.1"/><line x1="118.5" x2="134" y1="1406.5" y2="1406.5" stroke="#4a4a4a" stroke-width="1.1"/><line x1="118.5" x2="134" y1="1270.0" y2="1270.0" stroke="#4a4a4a" stroke-width="1.1"/><line x1="118.5" x2="134" y1="1133.5" y2="1133.5" stroke="#4a4a4a" stroke-width="1.1"/><line x1="118.5" x2="134" y1="997.0" y2="997.0" stroke="#4a4a4a" stroke-width="1.1"/><line x1="118.5" x2="134" y1="860.5" y2="860.5" stroke="#4a4a4a" stroke-width="1.1"/><line x1="118.5" x2="134" y1="724.0" y2="724.0" stroke="#4a4a4a" stroke-width="1.1"/><line x1="118.5" x2="134" y1="587.5" y2="587.5" stroke="#4a4a4a" stroke-width="1.1"/><line x1="118.5" x2="134" y1="451.0" y2="451.0" stroke="#4a4a4a" stroke-width="1.1"/><line x1="118.5" x2="134" y1="314.5" y2="314.5" stroke="#4a4a4a" stroke-width="1.1"/></g>
<line x1="134.2" x2="134.2" y1="283.5" y2="1572.5" stroke="#cfcfcf" stroke-width="1.8"/>
<line x1="133.3" x2="1611" y1="1572.3" y2="1572.3" stroke="#cfcfcf" stroke-width="1.8"/>
<line x1="140.4" x2="140.4" y1="1572" y2="1587.5" stroke="#333" stroke-width="2.6"/><line x1="409.2" x2="409.2" y1="1572" y2="1587.5" stroke="#333" stroke-width="2.6"/><line x1="676.9" x2="676.9" y1="1572" y2="1587.5" stroke="#333" stroke-width="2.6"/><line x1="943.9" x2="943.9" y1="1572" y2="1587.5" stroke="#333" stroke-width="2.6"/><line x1="1210.3" x2="1210.3" y1="1572" y2="1587.5" stroke="#333" stroke-width="2.6"/><line x1="1479.3" x2="1479.3" y1="1572" y2="1587.5" stroke="#333" stroke-width="2.6"/>
<g><text x="104.4" y="1558.8" text-anchor="end" class="ax">-250</text><text x="104.4" y="1422.3" text-anchor="end" class="ax">-200</text><text x="104.4" y="1285.8" text-anchor="end" class="ax">-150</text><text x="104.4" y="1149.3" text-anchor="end" class="ax">-100</text><text x="104.4" y="1012.8" text-anchor="end" class="ax">-50</text><text x="104.4" y="876.3" text-anchor="end" class="ax">0</text><text x="104.4" y="739.8" text-anchor="end" class="ax">50</text><text x="104.4" y="603.3" text-anchor="end" class="ax">100</text><text x="104.4" y="466.8" text-anchor="end" class="ax">150</text><text x="104.4" y="330.3" text-anchor="end" class="ax">200</text></g>
<g><text x="274.0" y="1637" text-anchor="middle" class="ax">2020</text><text x="542.2" y="1637" text-anchor="middle" class="ax">2021</text><text x="809.6" y="1637" text-anchor="middle" class="ax">2022</text><text x="1076.3" y="1637" text-anchor="middle" class="ax">2023</text><text x="1344.0" y="1637" text-anchor="middle" class="ax">2024</text></g>
<path d="M139.00,921.50L139.68,903.98Q139.75,902.28 141.45,902.28L141.78,902.28Q143.48,902.28 143.57,900.58L144.79,878.26Q144.88,876.56 146.58,876.56L146.91,876.56Q148.61,876.56 148.64,878.26L149.98,952.27Q150.01,953.97 151.71,953.97L152.04,953.97Q153.74,953.97 153.80,955.67L155.09,996.40Q155.14,998.10 156.84,998.10L157.17,998.10Q158.87,998.10 158.97,996.40L160.18,974.58Q160.27,972.88 161.97,972.88L162.31,972.88Q164.00,972.88 164.07,971.18L165.34,937.77Q165.41,936.07 167.10,936.07L167.44,936.07Q169.14,936.07 169.26,937.76L170.42,954.04Q170.54,955.74 172.24,955.74L172.57,955.74Q174.27,955.74 174.52,957.42L175.41,963.38Q175.67,965.07 177.37,965.07L177.70,965.07Q179.40,965.07 179.43,966.77L180.77,1046.83Q180.80,1048.53 182.50,1048.53L182.83,1048.53Q184.53,1048.53 184.56,1046.83L185.89,980.89Q185.93,979.19 187.63,979.19L187.96,979.19Q189.66,979.19 189.68,977.49L191.04,829.49Q191.06,827.79 192.76,827.79L193.09,827.79Q194.79,827.79 194.95,826.10L196.03,814.86Q196.19,813.17 197.89,813.17L199.18,813.17Q199.92,813.17 200.62,812.92L200.62,812.92Q201.32,812.66 202.07,812.66L203.35,812.66Q205.05,812.66 205.21,814.36L206.30,826.10Q206.45,827.79 208.15,827.79L208.48,827.79Q210.18,827.79 210.77,826.20L210.99,825.61Q211.58,824.01 213.28,824.01L213.62,824.01Q215.31,824.01 215.98,822.45L216.05,822.30Q216.72,820.73 218.41,820.73L218.75,820.73Q220.45,820.73 220.53,819.04L221.76,793.43Q221.85,791.74 223.55,791.74L223.88,791.74Q225.58,791.74 225.66,790.04L226.89,765.70Q226.98,764.00 228.68,764.00L229.01,764.00Q230.71,764.00 230.82,762.30L232.00,744.26Q232.11,742.57 233.81,742.57L234.14,742.57Q235.84,742.57 236.05,740.88L237.03,733.16Q237.24,731.47 238.94,731.47L239.27,731.47Q240.97,731.47 241.64,729.91L241.70,729.76Q242.37,728.19 244.07,728.19L244.40,728.19Q246.10,728.19 246.23,726.50L247.38,710.98Q247.50,709.28 249.20,709.28L249.53,709.28Q251.23,709.28 251.39,710.98L252.48,722.72Q252.63,724.41 254.33,724.41L254.66,724.41Q256.36,724.41 256.42,726.11L257.70,761.80Q257.76,763.50 259.46,763.50L259.79,763.50Q261.49,763.50 261.62,761.80L262.77,745.78Q262.89,744.08 264.59,744.08L264.93,744.08Q266.63,744.08 266.73,742.38L267.92,723.59Q268.03,721.89 269.73,721.89L270.06,721.89Q271.76,721.89 271.90,723.58L273.01,736.59Q273.16,738.28 274.86,738.28L275.19,738.28Q276.89,738.28 277.12,739.96L278.05,746.68Q278.29,748.37 279.99,748.37L280.89,748.37Q282.02,748.37 282.72,749.25L282.72,749.25Q283.42,750.13 284.54,750.13L285.92,750.13Q287.15,750.13 287.85,751.14L287.85,751.14Q288.55,752.15 289.78,752.15L290.58,752.15Q292.28,752.15 292.32,750.45L293.64,696.61Q293.68,694.91 295.38,694.91L295.71,694.91Q297.41,694.91 297.52,693.21L298.70,675.68Q298.81,673.98 300.51,673.98L300.84,673.98Q302.54,673.98 302.84,675.66L303.64,680.13Q303.94,681.80 305.64,681.80L305.97,681.80Q307.67,681.80 307.83,683.49L308.91,694.98Q309.07,696.68 310.77,696.68L311.86,696.68Q312.80,696.68 313.50,696.05L313.50,696.05Q314.20,695.42 315.15,695.42L316.24,695.42Q317.94,695.42 318.39,693.78L318.88,692.01Q319.33,690.37 321.03,690.37L321.37,690.37Q323.07,690.37 323.19,692.07L324.34,707.84Q324.47,709.54 326.17,709.54L326.50,709.54Q328.20,709.54 328.41,711.22L329.38,718.94Q329.60,720.63 331.30,720.63L331.63,720.63Q333.33,720.63 333.37,718.93L334.69,660.81Q334.73,659.11 336.43,659.11L336.76,659.11Q338.46,659.11 338.94,660.74L339.38,662.27Q339.86,663.90 341.56,663.90L341.89,663.90Q343.59,663.90 343.77,662.21L344.81,652.73Q344.99,651.04 346.69,651.04L347.39,651.04Q348.72,651.04 349.42,649.90L349.42,649.90Q350.12,648.77 351.45,648.77L352.15,648.77Q353.85,648.77 354.18,650.44L354.92,654.16Q355.25,655.83 356.95,655.83L357.28,655.83Q358.98,655.83 359.09,654.13L360.28,634.58Q360.38,632.88 362.08,632.88L362.41,632.88Q364.11,632.88 364.21,631.19L365.42,609.37Q365.51,607.67 367.21,607.67L367.55,607.67Q369.25,607.67 369.31,605.97L370.58,574.57Q370.65,572.87 372.35,572.87L372.68,572.87Q374.38,572.87 374.45,574.57L375.70,603.95Q375.78,605.65 377.48,605.65L377.81,605.65Q379.51,605.65 379.72,603.96L380.70,595.99Q380.91,594.30 382.61,594.30L383.61,594.30Q384.64,594.30 385.34,595.06L385.34,595.06Q386.04,595.82 387.07,595.82L388.07,595.82Q389.77,595.82 389.91,594.12L391.03,580.11Q391.17,578.42 392.87,578.42L394.19,578.42Q394.90,578.42 395.60,578.29L395.60,578.29Q396.30,578.17 397.01,578.17L398.33,578.17Q400.03,578.17 400.28,576.49L401.18,570.52Q401.43,568.84 403.13,568.84L403.46,568.84Q405.16,568.84 405.52,567.17L406.21,563.94Q406.56,562.28 408.26,562.28L408.59,562.28Q410.29,562.28 410.40,560.58L411.59,540.78Q411.69,539.08 413.39,539.08L413.72,539.08Q415.42,539.08 415.54,540.78L416.71,557.81Q416.82,559.51 418.52,559.51L419.76,559.51Q420.56,559.51 421.25,559.89L421.25,559.89Q421.95,560.26 422.75,560.26L423.99,560.26Q425.69,560.26 425.91,561.95L426.86,569.17Q427.09,570.85 428.79,570.85L429.12,570.85Q430.82,570.85 430.89,572.55L432.14,600.67Q432.22,602.37 433.92,602.37L434.25,602.37Q435.95,602.37 436.02,604.07L437.28,633.71Q437.35,635.40 439.05,635.40L439.38,635.40Q441.08,635.40 441.64,633.80L441.92,632.98Q442.48,631.37 444.18,631.37L444.51,631.37Q446.21,631.37 446.26,633.07L447.56,680.35Q447.61,682.05 449.31,682.05L449.64,682.05Q451.34,682.05 451.40,683.75L452.68,719.69Q452.74,721.39 454.44,721.39L454.77,721.39Q456.47,721.39 456.53,723.09L457.81,758.52Q457.87,760.22 459.57,760.22L459.90,760.22Q461.60,760.22 461.63,761.92L462.98,851.81Q463.00,853.51 464.70,853.51L465.03,853.51Q466.73,853.51 466.79,855.21L468.08,894.68Q468.13,896.38 469.83,896.38L470.17,896.38Q471.87,896.38 472.00,898.07L473.13,912.33Q473.27,914.03 474.97,914.03L475.30,914.03Q477.00,914.03 477.11,915.72L478.28,932.50Q478.40,934.20 480.10,934.20L480.43,934.20Q482.13,934.20 482.40,935.88L483.26,941.20Q483.53,942.88 485.23,942.88L485.56,942.88Q487.26,942.88 487.57,944.55L488.35,948.77Q488.66,950.44 490.36,950.44L490.69,950.44Q492.39,950.44 492.48,948.74L493.70,924.91Q493.79,923.21 495.49,923.21L496.82,923.21Q497.52,923.21 498.22,923.21L498.22,923.21Q498.92,923.21 499.62,923.21L500.95,923.21Q502.65,923.21 502.90,924.89L503.81,931.11Q504.05,932.79 505.75,932.79L506.08,932.79Q507.78,932.79 507.85,934.49L509.11,966.39Q509.18,968.09 510.88,968.09L511.21,968.09Q512.91,968.09 513.41,966.47L513.81,965.18Q514.31,963.55 516.01,963.55L516.34,963.55Q518.04,963.55 518.41,965.21L519.08,968.20Q519.44,969.86 521.14,969.86L521.48,969.86Q523.18,969.86 523.28,968.16L524.47,948.69Q524.58,946.99 526.28,946.99L526.61,946.99Q528.31,946.99 528.37,948.69L529.64,982.36Q529.71,984.06 531.41,984.06L531.74,984.06Q533.44,984.06 533.48,985.76L534.79,1033.54Q534.84,1035.24 536.54,1035.24L536.87,1035.24Q538.57,1035.24 538.64,1036.94L539.90,1067.59Q539.97,1069.28 541.67,1069.28L542.00,1069.28Q543.70,1069.28 543.97,1070.96L544.83,1076.43Q545.10,1078.11 546.80,1078.11L547.13,1078.11Q548.83,1078.11 548.95,1076.41L550.11,1060.39Q550.23,1058.69 551.93,1058.69L552.26,1058.69Q553.96,1058.69 554.63,1057.13L554.69,1056.98Q555.36,1055.42 557.06,1055.42L557.39,1055.42Q559.09,1055.42 559.19,1057.11L560.39,1077.67Q560.49,1079.37 562.19,1079.37L562.52,1079.37Q564.22,1079.37 564.35,1077.67L565.50,1062.15Q565.62,1060.46 567.32,1060.46L567.65,1060.46Q569.35,1060.46 569.54,1062.15L570.57,1071.38Q570.75,1073.07 572.45,1073.07L573.04,1073.07Q574.49,1073.07 575.19,1074.33L575.19,1074.33Q575.89,1075.59 577.33,1075.59L577.92,1075.59Q579.62,1075.59 580.28,1077.15L580.35,1077.30Q581.02,1078.87 582.72,1078.87L583.05,1078.87Q584.75,1078.87 585.15,1077.21L585.75,1074.72Q586.15,1073.07 587.85,1073.07L588.18,1073.07Q589.88,1073.07 590.11,1071.38L591.04,1064.66Q591.28,1062.98 592.98,1062.98L593.31,1062.98Q595.01,1062.98 595.15,1061.29L596.26,1048.28Q596.41,1046.59 598.11,1046.59L598.44,1046.59Q600.14,1046.59 600.22,1044.89L601.46,1020.05Q601.54,1018.35 603.24,1018.35L603.57,1018.35Q605.27,1018.35 605.32,1020.05L606.62,1065.06Q606.67,1066.76 608.37,1066.76L608.70,1066.76Q610.40,1066.76 610.51,1068.46L611.70,1087.76Q611.80,1089.46 613.50,1089.46L613.83,1089.46Q615.53,1089.46 615.60,1091.15L616.87,1123.06Q616.93,1124.76 618.63,1124.76L618.96,1124.76Q620.66,1124.76 620.71,1126.46L622.02,1178.53Q622.06,1180.23 623.76,1180.23L624.10,1180.23Q625.80,1180.23 626.03,1181.91L626.96,1188.63Q627.20,1190.32 628.90,1190.32L629.23,1190.32Q630.93,1190.32 631.19,1188.64L632.06,1183.17Q632.33,1181.49 634.03,1181.49L634.36,1181.49Q636.06,1181.49 636.37,1179.82L637.15,1175.60Q637.46,1173.93 639.16,1173.93L639.49,1173.93Q641.19,1173.93 641.50,1175.60L642.28,1179.82Q642.59,1181.49 644.29,1181.49L644.88,1181.49Q646.32,1181.49 647.02,1182.75L647.02,1182.75Q647.72,1184.01 649.16,1184.01L649.75,1184.01Q651.45,1184.01 651.48,1182.31L652.82,1103.76Q652.85,1102.06 654.55,1102.06L654.88,1102.06Q656.58,1102.06 656.63,1100.36L657.93,1058.38Q657.98,1056.68 659.68,1056.68L660.01,1056.68Q661.71,1056.68 662.00,1055.00L662.82,1050.28Q663.11,1048.61 664.81,1048.61L665.14,1048.61Q666.84,1048.61 667.37,1050.22L667.72,1051.28Q668.24,1052.89 669.94,1052.89L670.27,1052.89Q671.97,1052.89 672.08,1054.59L673.26,1072.63Q673.37,1074.33 675.07,1074.33L675.41,1074.33Q677.11,1074.33 677.16,1076.03L678.45,1116.75Q678.51,1118.45 680.21,1118.45L680.54,1118.45Q682.24,1118.45 682.30,1120.15L683.57,1152.05Q683.64,1153.75 685.34,1153.75L685.67,1153.75Q687.37,1153.75 687.41,1152.05L688.72,1099.98Q688.77,1098.28 690.47,1098.28L690.80,1098.28Q692.50,1098.28 692.56,1096.58L693.83,1063.42Q693.90,1061.72 695.60,1061.72L696.19,1061.72Q697.63,1061.72 698.33,1060.46L698.33,1060.46Q699.03,1059.20 700.47,1059.20L701.06,1059.20Q702.76,1059.20 702.97,1057.51L703.95,1049.54Q704.16,1047.85 705.86,1047.85L706.19,1047.85Q707.89,1047.85 707.95,1049.55L709.24,1089.02Q709.29,1090.72 710.99,1090.72L711.32,1090.72Q713.02,1090.72 713.10,1089.02L714.34,1063.42Q714.42,1061.72 716.12,1061.72L716.71,1061.72Q718.15,1061.72 718.85,1060.46L718.85,1060.46Q719.55,1059.20 721.00,1059.20L721.58,1059.20Q723.28,1059.20 723.52,1057.51L724.45,1050.80Q724.68,1049.11 726.38,1049.11L726.72,1049.11Q728.42,1049.11 728.48,1050.81L729.75,1081.45Q729.82,1083.15 731.52,1083.15L731.85,1083.15Q733.55,1083.15 733.57,1084.85L734.92,1170.96Q734.95,1172.66 736.65,1172.66L736.98,1172.66Q738.68,1172.66 738.74,1174.36L740.01,1207.53Q740.08,1209.23 741.78,1209.23L742.11,1209.23Q743.81,1209.23 744.02,1210.91L745.00,1218.89Q745.21,1220.57 746.91,1220.57L747.24,1220.57Q748.94,1220.57 749.04,1222.27L750.24,1243.59Q750.34,1245.28 752.04,1245.28L752.37,1245.28Q754.07,1245.28 754.40,1243.62L755.14,1239.89Q755.47,1238.22 757.17,1238.22L757.50,1238.22Q759.20,1238.22 759.27,1236.52L760.54,1203.36Q760.60,1201.66 762.30,1201.66L762.63,1201.66Q764.33,1201.66 764.46,1203.36L765.61,1218.88Q765.73,1220.57 767.43,1220.57L768.34,1220.57Q769.46,1220.57 770.16,1221.46L770.16,1221.46Q770.86,1222.34 771.99,1222.34L772.89,1222.34Q774.59,1222.34 774.77,1220.65L775.81,1210.92Q775.99,1209.23 777.69,1209.23L778.03,1209.23Q779.73,1209.23 779.82,1207.53L781.03,1186.97Q781.13,1185.27 782.83,1185.27L783.41,1185.27Q784.86,1185.27 785.56,1186.53L785.56,1186.53Q786.26,1187.79 787.70,1187.79L788.29,1187.79Q789.99,1187.79 790.09,1189.49L791.29,1210.05Q791.39,1211.75 793.09,1211.75L793.42,1211.75Q795.12,1211.75 795.24,1210.05L796.39,1194.53Q796.52,1192.84 798.22,1192.84L798.55,1192.84Q800.25,1192.84 800.29,1191.14L801.61,1140.32Q801.65,1138.62 803.35,1138.62L803.68,1138.62Q805.38,1138.62 805.51,1136.93L806.65,1121.41Q806.78,1119.71 808.48,1119.71L809.07,1119.71Q810.51,1119.71 811.21,1118.45L811.21,1118.45Q811.91,1117.19 813.35,1117.19L813.94,1117.19Q815.64,1117.19 815.76,1115.50L816.92,1098.72Q817.04,1097.02 818.74,1097.02L819.07,1097.02Q820.77,1097.02 821.14,1098.68L821.80,1101.66Q822.17,1103.32 823.87,1103.32L824.20,1103.32Q825.90,1103.32 826.27,1101.66L826.94,1098.68Q827.30,1097.02 829.00,1097.02L829.34,1097.02Q831.04,1097.02 831.07,1095.32L832.40,1030.64Q832.44,1028.94 834.14,1028.94L834.47,1028.94Q836.17,1028.94 836.26,1027.24L837.48,1004.16Q837.57,1002.46 839.27,1002.46L840.60,1002.46Q841.30,1002.46 842.00,1002.46L842.00,1002.46Q842.70,1002.46 843.40,1002.46L844.73,1002.46Q846.43,1002.46 846.46,1004.16L847.80,1073.89Q847.83,1075.59 849.53,1075.59L849.86,1075.59Q851.56,1075.59 851.93,1077.25L852.59,1080.23Q852.96,1081.89 854.66,1081.89L854.99,1081.89Q856.69,1081.89 856.72,1083.59L858.06,1154.58Q858.09,1156.28 859.79,1156.28L860.12,1156.28Q861.82,1156.28 861.88,1157.97L863.16,1192.40Q863.22,1194.10 864.92,1194.10L865.25,1194.10Q866.95,1194.10 867.00,1192.40L868.30,1150.41Q868.35,1148.71 870.05,1148.71L870.38,1148.71Q872.08,1148.71 872.39,1147.04L873.17,1142.82Q873.48,1141.15 875.18,1141.15L875.51,1141.15Q877.21,1141.15 877.30,1139.45L878.53,1115.11Q878.61,1113.41 880.31,1113.41L880.65,1113.41Q882.35,1113.41 882.61,1115.09L883.48,1120.56Q883.75,1122.23 885.45,1122.23L885.78,1122.23Q887.48,1122.23 887.52,1123.93L888.83,1170.97Q888.88,1172.66 890.58,1172.66L891.16,1172.66Q892.61,1172.66 893.31,1171.40L893.31,1171.40Q894.01,1170.14 895.45,1170.14L896.04,1170.14Q897.74,1170.14 897.81,1168.44L899.07,1139.06Q899.14,1137.36 900.84,1137.36L901.93,1137.36Q902.87,1137.36 903.57,1136.73L903.57,1136.73Q904.27,1136.10 905.21,1136.10L906.30,1136.10Q908.00,1136.10 908.05,1134.40L909.35,1093.68Q909.40,1091.98 911.10,1091.98L911.43,1091.98Q913.13,1091.98 913.29,1090.28L914.37,1078.54Q914.53,1076.85 916.23,1076.85L917.32,1076.85Q918.26,1076.85 918.96,1077.48L918.96,1077.48Q919.66,1078.11 920.60,1078.11L921.69,1078.11Q923.39,1078.11 923.60,1076.42L924.59,1068.29Q924.79,1066.61 926.49,1066.61L926.82,1066.61Q928.52,1066.61 928.62,1064.91L929.82,1044.60Q929.92,1042.91 931.62,1042.91L931.96,1042.91Q933.66,1042.91 933.72,1041.21L934.99,1006.03Q935.06,1004.33 936.76,1004.33L937.09,1004.33Q938.79,1004.33 938.89,1002.63L940.08,983.33Q940.19,981.63 941.89,981.63L942.22,981.63Q943.92,981.63 944.00,979.94L945.23,954.84Q945.32,953.14 947.02,953.14L947.35,953.14Q949.05,953.14 949.10,951.44L950.40,907.18Q950.45,905.48 952.15,905.48L952.48,905.48Q954.18,905.48 954.24,903.79L955.51,871.13Q955.58,869.43 957.28,869.43L957.61,869.43Q959.31,869.43 959.60,867.75L960.42,863.03Q960.71,861.36 962.41,861.36L962.74,861.36Q964.44,861.36 964.74,859.68L965.54,855.21Q965.84,853.54 967.54,853.54L968.34,853.54Q969.57,853.54 970.27,854.55L970.27,854.55Q970.97,855.56 972.20,855.56L973.00,855.56Q974.70,855.56 974.86,853.87L975.95,842.12Q976.10,840.43 977.80,840.43L978.13,840.43Q979.83,840.43 979.90,842.13L981.17,875.29Q981.23,876.99 982.93,876.99L983.27,876.99Q984.97,876.99 985.00,878.69L986.33,951.69Q986.37,953.39 988.07,953.39L988.40,953.39Q990.10,953.39 990.28,955.08L991.32,964.81Q991.50,966.50 993.20,966.50L993.53,966.50Q995.23,966.50 995.60,964.84L996.26,961.86Q996.63,960.20 998.33,960.20L998.66,960.20Q1000.36,960.20 1000.81,958.56L1001.30,956.80Q1001.76,955.16 1003.46,955.16L1003.79,955.16Q1005.49,955.16 1005.59,953.46L1006.79,933.40Q1006.89,931.71 1008.59,931.71L1008.92,931.71Q1010.62,931.71 1010.82,930.02L1011.82,921.54Q1012.02,919.86 1013.72,919.86L1014.05,919.86Q1015.75,919.86 1016.15,918.20L1016.75,915.71Q1017.15,914.06 1018.85,914.06L1019.94,914.06Q1020.88,914.06 1021.58,913.43L1021.58,913.43Q1022.28,912.80 1023.22,912.80L1024.31,912.80Q1026.01,912.80 1026.41,914.45L1027.01,916.94Q1027.41,918.60 1029.11,918.60L1029.44,918.60Q1031.14,918.60 1031.30,920.29L1032.39,932.54Q1032.54,934.23 1034.24,934.23L1034.57,934.23Q1036.27,934.23 1036.35,932.53L1037.60,902.64Q1037.67,900.95 1039.38,900.95L1039.71,900.95Q1041.41,900.95 1041.58,902.64L1042.64,913.12Q1042.81,914.81 1044.51,914.81L1044.84,914.81Q1046.54,914.81 1046.56,916.51L1047.91,1009.69Q1047.94,1011.39 1049.64,1011.39L1049.97,1011.39Q1051.67,1011.39 1051.72,1013.09L1053.01,1053.06Q1053.07,1054.76 1054.77,1054.76L1055.10,1054.76Q1056.80,1054.76 1056.88,1056.45L1058.12,1082.06Q1058.20,1083.75 1059.90,1083.75L1060.23,1083.75Q1061.93,1083.75 1062.09,1082.06L1063.17,1070.32Q1063.33,1068.62 1065.03,1068.62L1065.36,1068.62Q1067.06,1068.62 1067.22,1070.32L1068.30,1082.06Q1068.46,1083.75 1070.16,1083.75L1070.49,1083.75Q1072.19,1083.75 1072.35,1085.45L1073.44,1097.19Q1073.59,1098.88 1075.29,1098.88L1075.62,1098.88Q1077.32,1098.88 1077.47,1100.58L1078.58,1113.58Q1078.72,1115.27 1080.42,1115.27L1080.75,1115.27Q1082.45,1115.27 1082.62,1113.58L1083.69,1102.34Q1083.85,1100.65 1085.55,1100.65L1085.88,1100.65Q1087.59,1100.65 1087.61,1098.95L1088.96,1015.61Q1088.99,1013.91 1090.69,1013.91L1091.02,1013.91Q1092.72,1013.91 1093.05,1012.24L1093.79,1008.52Q1094.12,1006.85 1095.82,1006.85L1096.15,1006.85Q1097.85,1006.85 1098.16,1008.52L1098.94,1012.74Q1099.25,1014.41 1100.95,1014.41L1101.28,1014.41Q1102.98,1014.41 1103.13,1016.11L1104.22,1027.85Q1104.38,1029.54 1106.08,1029.54L1106.41,1029.54Q1108.11,1029.54 1108.18,1031.24L1109.44,1061.88Q1109.51,1063.58 1111.21,1063.58L1111.54,1063.58Q1113.24,1063.58 1113.43,1065.27L1114.45,1074.50Q1114.64,1076.19 1116.34,1076.19L1116.67,1076.19Q1118.37,1076.19 1118.54,1074.50L1119.60,1064.01Q1119.77,1062.32 1121.47,1062.32L1121.80,1062.32Q1123.50,1062.32 1123.59,1064.02L1124.81,1087.86Q1124.90,1089.55 1126.60,1089.55L1126.93,1089.55Q1128.63,1089.55 1128.96,1087.89L1129.70,1084.16Q1130.03,1082.49 1131.73,1082.49L1132.82,1082.49Q1133.76,1082.49 1134.46,1083.12L1134.46,1083.12Q1135.16,1083.75 1136.11,1083.75L1137.19,1083.75Q1138.89,1083.75 1139.04,1085.45L1140.15,1098.45Q1140.30,1100.14 1142.00,1100.14L1142.33,1100.14Q1144.03,1100.14 1144.15,1098.45L1145.30,1082.93Q1145.43,1081.23 1147.13,1081.23L1147.46,1081.23Q1149.16,1081.23 1149.22,1079.53L1150.50,1043.85Q1150.56,1042.15 1152.26,1042.15L1152.59,1042.15Q1154.29,1042.15 1154.35,1043.85L1155.63,1079.53Q1155.69,1081.23 1157.39,1081.23L1157.72,1081.23Q1159.42,1081.23 1160.01,1082.83L1160.23,1083.42Q1160.82,1085.01 1162.52,1085.01L1162.85,1085.01Q1164.55,1085.01 1164.84,1083.34L1165.66,1078.62Q1165.95,1076.95 1167.65,1076.95L1167.98,1076.95Q1169.68,1076.95 1169.78,1075.25L1170.98,1055.70Q1171.08,1054.00 1172.78,1054.00L1173.11,1054.00Q1174.81,1054.00 1174.84,1055.70L1176.19,1148.37Q1176.21,1150.07 1177.91,1150.07L1178.24,1150.07Q1179.94,1150.07 1179.98,1148.37L1181.30,1093.02Q1181.34,1091.32 1183.04,1091.32L1183.37,1091.32Q1185.07,1091.32 1185.26,1093.01L1186.29,1102.24Q1186.47,1103.93 1188.17,1103.93L1188.51,1103.93Q1190.21,1103.93 1190.37,1102.23L1191.44,1091.25Q1191.61,1089.55 1193.31,1089.55L1193.64,1089.55Q1195.34,1089.55 1195.38,1087.85L1196.69,1040.82Q1196.74,1039.12 1198.44,1039.12L1198.77,1039.12Q1200.47,1039.12 1200.51,1037.42L1201.82,985.85Q1201.87,984.15 1203.57,984.15L1203.90,984.15Q1205.60,984.15 1205.85,982.47L1206.75,976.51Q1207.00,974.83 1208.70,974.83L1209.03,974.83Q1210.73,974.83 1210.88,973.13L1211.97,961.14Q1212.13,959.44 1213.83,959.44L1214.16,959.44Q1215.86,959.44 1216.13,961.12L1216.99,966.59Q1217.26,968.27 1218.96,968.27L1219.29,968.27Q1220.99,968.27 1221.21,969.96L1222.17,977.43Q1222.39,979.11 1224.09,979.11L1224.42,979.11Q1226.12,979.11 1226.19,980.81L1227.46,1013.97Q1227.52,1015.67 1229.22,1015.67L1229.55,1015.67Q1231.25,1015.67 1231.30,1017.37L1232.60,1060.62Q1232.65,1062.32 1234.35,1062.32L1234.68,1062.32Q1236.38,1062.32 1236.49,1064.02L1237.67,1082.09Q1237.78,1083.78 1239.48,1083.78L1239.82,1083.78Q1241.52,1083.78 1241.54,1085.48L1242.89,1166.55Q1242.92,1168.25 1244.62,1168.25L1244.95,1168.25Q1246.65,1168.25 1246.72,1169.95L1247.97,1198.83Q1248.05,1200.53 1249.75,1200.53L1250.08,1200.53Q1251.78,1200.53 1251.87,1202.22L1253.08,1224.04Q1253.18,1225.74 1254.88,1225.74L1255.21,1225.74Q1256.91,1225.74 1256.99,1224.04L1258.22,1198.95Q1258.31,1197.25 1260.01,1197.25L1260.34,1197.25Q1262.04,1197.25 1262.10,1195.55L1263.38,1160.37Q1263.44,1158.67 1265.14,1158.67L1265.47,1158.67Q1267.17,1158.67 1267.20,1160.37L1268.54,1227.07Q1268.57,1228.77 1270.27,1228.77L1270.60,1228.77Q1272.30,1228.77 1272.72,1227.12L1273.29,1224.87Q1273.70,1223.22 1275.40,1223.22L1275.73,1223.22Q1277.43,1223.22 1277.52,1224.92L1278.74,1247.75Q1278.83,1249.44 1280.53,1249.44L1280.86,1249.44Q1282.56,1249.44 1282.61,1251.14L1283.92,1301.96Q1283.96,1303.66 1285.66,1303.66L1285.99,1303.66Q1287.69,1303.66 1287.78,1305.35L1289.01,1329.19Q1289.09,1330.89 1290.79,1330.89L1291.12,1330.89Q1292.83,1330.89 1292.91,1332.59L1294.14,1355.67Q1294.23,1357.36 1295.93,1357.36L1296.26,1357.36Q1297.96,1357.36 1298.05,1355.67L1299.26,1333.34Q1299.36,1331.64 1301.06,1331.64L1301.39,1331.64Q1303.09,1331.64 1303.11,1329.94L1304.46,1232.48Q1304.49,1230.79 1306.19,1230.79L1306.52,1230.79Q1308.22,1230.79 1308.67,1232.42L1309.16,1234.19Q1309.62,1235.83 1311.32,1235.83L1311.65,1235.83Q1313.35,1235.83 1313.40,1237.53L1314.70,1285.57Q1314.75,1287.27 1316.45,1287.27L1316.78,1287.27Q1318.48,1287.27 1318.52,1288.97L1319.84,1339.27Q1319.88,1340.97 1321.58,1340.97L1321.91,1340.97Q1323.61,1340.97 1323.64,1339.27L1324.98,1259.46Q1325.01,1257.77 1326.71,1257.77L1327.04,1257.77Q1328.74,1257.77 1328.79,1259.46L1330.10,1308.26Q1330.14,1309.96 1331.84,1309.96L1332.17,1309.96Q1333.87,1309.96 1333.95,1311.66L1335.20,1340.54Q1335.27,1342.23 1336.97,1342.23L1337.30,1342.23Q1339.00,1342.23 1339.03,1343.93L1340.38,1425.01Q1340.40,1426.70 1342.10,1426.70L1342.43,1426.70Q1344.13,1426.70 1344.59,1428.34L1345.08,1430.11Q1345.54,1431.75 1347.24,1431.75L1347.57,1431.75Q1349.27,1431.75 1349.36,1430.05L1350.58,1406.97Q1350.67,1405.27 1352.37,1405.27L1352.70,1405.27Q1354.40,1405.27 1354.41,1403.57L1355.78,1245.09Q1355.80,1243.39 1357.50,1243.39L1357.83,1243.39Q1359.53,1243.39 1359.56,1241.69L1360.90,1166.93Q1360.93,1165.23 1362.63,1165.23L1362.96,1165.23Q1364.66,1165.23 1364.74,1163.53L1365.98,1138.42Q1366.06,1136.72 1367.76,1136.72L1368.09,1136.72Q1369.79,1136.72 1369.80,1135.02L1371.18,975.28Q1371.19,973.58 1372.89,973.58L1373.22,973.58Q1374.92,973.58 1374.95,971.88L1376.30,876.94Q1376.32,875.24 1378.02,875.24L1378.35,875.24Q1380.05,875.24 1380.24,876.93L1381.26,886.16Q1381.45,887.85 1383.15,887.85L1383.48,887.85Q1385.18,887.85 1385.71,889.47L1386.06,890.52Q1386.58,892.14 1388.28,892.14L1388.61,892.14Q1390.31,892.14 1390.37,890.44L1391.66,852.48Q1391.71,850.79 1393.41,850.79L1393.74,850.79Q1395.44,850.79 1395.53,849.09L1396.76,825.25Q1396.85,823.55 1398.55,823.55L1399.13,823.55Q1400.58,823.55 1401.28,822.29L1401.28,822.29Q1401.98,821.03 1403.42,821.03L1404.01,821.03Q1405.71,821.03 1405.78,819.33L1407.03,789.95Q1407.11,788.25 1408.81,788.25L1409.14,788.25Q1410.84,788.25 1411.08,786.57L1411.99,780.35Q1412.24,778.67 1413.94,778.67L1414.27,778.67Q1415.97,778.67 1416.37,780.32L1416.97,782.82Q1417.37,784.47 1419.07,784.47L1419.40,784.47Q1421.10,784.47 1421.20,786.17L1422.40,807.23Q1422.50,808.93 1424.20,808.93L1424.53,808.93Q1426.23,808.93 1426.26,810.63L1427.60,891.95Q1427.63,893.65 1429.33,893.65L1429.66,893.65Q1431.36,893.65 1431.40,895.35L1432.73,956.75Q1432.76,958.45 1434.46,958.45L1434.79,958.45Q1436.49,958.45 1436.54,960.15L1437.85,1007.18Q1437.89,1008.88 1439.59,1008.88L1439.92,1008.88Q1441.62,1008.88 1441.66,1010.58L1442.99,1076.52Q1443.02,1078.22 1444.72,1078.22L1445.05,1078.22Q1446.75,1078.22 1446.91,1076.53L1448.00,1064.79Q1448.15,1063.09 1449.86,1063.09L1450.19,1063.09Q1451.89,1063.09 1451.93,1061.40L1453.24,1006.80Q1453.29,1005.10 1454.99,1005.10L1455.32,1005.10Q1457.02,1005.10 1457.06,1003.40L1458.38,945.78Q1458.42,944.08 1460.12,944.08L1460.45,944.08Q1462.15,944.08 1462.22,942.38L1463.48,911.49Q1463.55,909.79 1465.25,909.79L1465.58,909.79Q1467.28,909.79 1467.31,911.49L1468.64,975.16Q1468.68,976.86 1470.38,976.86L1470.71,976.86Q1472.41,976.86 1472.60,978.55L1473.62,987.78Q1473.81,989.47 1475.51,989.47L1475.84,989.47Q1477.54,989.47 1477.77,991.15L1478.71,997.87Q1478.94,999.55 1480.64,999.55L1480.97,999.55Q1482.67,999.55 1482.75,1001.25L1484.00,1029.88Q1484.07,1031.58 1485.77,1031.58L1486.10,1031.58Q1487.80,1031.58 1487.89,1033.27L1489.11,1055.85Q1489.20,1057.55 1490.90,1057.55L1491.23,1057.55Q1492.93,1057.55 1492.98,1055.85L1494.29,1006.80Q1494.33,1005.10 1496.03,1005.10L1496.36,1005.10Q1498.06,1005.10 1498.12,1003.40L1499.41,959.40Q1499.46,957.70 1501.16,957.70L1501.50,957.70Q1503.20,957.70 1503.24,956.00L1504.55,903.42Q1504.60,901.72 1506.30,901.72L1506.63,901.72Q1508.33,901.72 1508.37,900.02L1509.69,844.92Q1509.73,843.22 1511.43,843.22L1511.76,843.22Q1513.46,843.22 1513.55,841.52L1514.76,819.70Q1514.86,818.01 1516.56,818.01L1516.89,818.01Q1518.59,818.01 1518.61,816.31L1519.97,698.03Q1519.99,696.33 1521.69,696.33L1522.02,696.33Q1523.72,696.33 1523.75,694.63L1525.09,625.87Q1525.12,624.17 1526.82,624.17L1527.15,624.17Q1528.85,624.17 1529.50,625.74L1529.60,625.96Q1530.25,627.53 1531.95,627.53L1532.28,627.53Q1533.98,627.53 1534.06,629.23L1535.30,655.09Q1535.38,656.79 1537.08,656.79L1537.41,656.79Q1539.11,656.79 1539.27,655.10L1540.36,643.06Q1540.51,641.37 1542.21,641.37L1542.54,641.37Q1544.24,641.37 1544.35,639.67L1545.53,621.32Q1545.64,619.62 1547.34,619.62L1547.68,619.62Q1549.38,619.62 1549.40,617.92L1550.75,528.00Q1550.78,526.30 1552.48,526.30L1552.81,526.30Q1554.51,526.30 1554.59,524.61L1555.83,498.35Q1555.91,496.65 1557.61,496.65L1557.94,496.65Q1559.64,496.65 1559.77,494.95L1560.90,480.55Q1561.04,478.85 1562.74,478.85L1563.07,478.85Q1564.77,478.85 1564.89,477.16L1566.05,460.78Q1566.17,459.08 1567.87,459.08L1568.20,459.08Q1569.90,459.08 1570.15,457.40L1571.05,451.27Q1571.30,449.59 1573.00,449.59L1573.33,449.59Q1575.03,449.59 1575.18,451.29L1576.28,463.32Q1576.43,465.01 1578.13,465.01L1578.46,465.01Q1580.16,465.01 1580.36,463.33L1581.56,453.15" fill="none" stroke="#001e3c" stroke-width="5.4" stroke-linejoin="round" stroke-linecap="butt"/>
<text x="1643" y="463" font-size="34.5" style="fill:#1b365d" textLength="73.6" lengthAdjust="spacingAndGlyphs">149k</text>
<text y="1706" font-size="34.5" font-weight="400" xml:space="preserve"><tspan x="30.22" textLength="115.83" lengthAdjust="spacingAndGlyphs">Source:</tspan> <tspan x="151.84" textLength="135.56" lengthAdjust="spacingAndGlyphs">Convera,</tspan> <tspan x="292.22" textLength="180.75" lengthAdjust="spacingAndGlyphs">Macrobond</tspan></text>
</svg>
</body></html>
